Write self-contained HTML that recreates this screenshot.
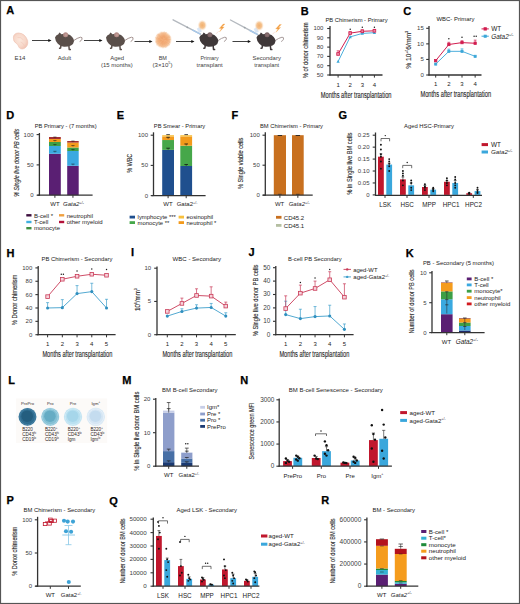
<!DOCTYPE html>
<html><head><meta charset="utf-8"><title>Figure</title>
<style>html,body{margin:0;padding:0;background:#fff;} svg{display:block;} text{font-family:"Liberation Sans", sans-serif;}</style>
</head><body>
<svg width="520" height="604" viewBox="0 0 520 604" font-family='"Liberation Sans", sans-serif' fill="#231f20">
<rect x="0.00" y="0.00" width="520.00" height="604.00" fill="#fff" />
<text x="6.30" y="14.10" font-size="11" font-weight="bold" fill="#000" stroke="#000" stroke-width="0.25">A</text>
<defs>
<radialGradient id="bmg" cx="50%" cy="50%" r="50%">
<stop offset="0" stop-color="#f3a872"/><stop offset="0.5" stop-color="#f6b989"/><stop offset="0.8" stop-color="#f8cca6"/><stop offset="1" stop-color="#fce6d3" stop-opacity="0.4"/>
</radialGradient>
<radialGradient id="smg" cx="50%" cy="50%" r="50%">
<stop offset="0" stop-color="#f1b06e"/><stop offset="0.55" stop-color="#f5c390"/><stop offset="1" stop-color="#fbe7d2" stop-opacity="0.15"/>
</radialGradient>
<radialGradient id="emb" cx="45%" cy="45%" r="55%">
<stop offset="0" stop-color="#fbe7dc"/><stop offset="0.7" stop-color="#f7d8ca"/><stop offset="1" stop-color="#f2c8b8"/>
</radialGradient>
</defs>
<path d="M13.4,37.2 Q13.8,33.2 18.5,33.0 Q25,33.3 27.6,40.5 Q28.6,46.2 24,48.6 Q20,49.8 18.6,46.6 Q18,44.3 16.4,43.6 Q13,41.6 13.4,37.2 Z" fill="url(#emb)" stroke="#efc3b3" stroke-width="0.7"/>
<path d="M17.5,37.5 Q21,36.5 23.5,40 M20.5,42 Q23.5,43 24.5,46" fill="none" stroke="#f0c4b4" stroke-width="0.5"/>
<line x1="32.00" y1="40.50" x2="49.00" y2="40.50" stroke="#111" stroke-width="0.8" />
<path d="M51.50,40.50 L48.30,39.00 L48.30,42.00 Z" fill="#111"/>
<g transform="translate(55.00,32.00) scale(1.0)">
<path d="M18.6,8.6 Q22.5,5.8 25.5,5.2 Q27.6,5.1 27,7.2 Q26.4,8.8 25,9.4" fill="none" stroke="#9b8783" stroke-width="0.9" stroke-linecap="round"/>
<path d="M6.0,13.2 L5.6,16.0 L4.6,16.3 M13.9,13.8 L14.2,17.4 L15.3,17.6" fill="none" stroke="#5a4f4a" stroke-width="1.5" stroke-linecap="round" stroke-linejoin="round"/>
<path d="M0,5.5 Q0.8,3 3.4,2.3 L4.3,0.4 Q5.6,1.2 6.4,2.2 Q9,1.4 12,2 Q15.5,2.6 17.2,5 Q19.2,7.2 19,9.2 Q18.6,12.2 16,13.6 Q12.5,15 9,14.8 Q5,14.4 2.8,11.8 Q0.2,9 0,5.5 Z" fill="#5a4f4a"/>
<circle cx="10.6" cy="2.7" r="2.5" fill="#b38b86"/>
<circle cx="10.9" cy="3.0" r="1.3" fill="#c9a29c" opacity="0.7"/>
</g>
<line x1="84.00" y1="40.50" x2="100.00" y2="40.50" stroke="#111" stroke-width="0.8" />
<path d="M102.50,40.50 L99.30,39.00 L99.30,42.00 Z" fill="#111"/>
<g transform="translate(106.00,32.00) scale(1.0)">
<path d="M18.6,8.6 Q22.5,5.8 25.5,5.2 Q27.6,5.1 27,7.2 Q26.4,8.8 25,9.4" fill="none" stroke="#9b8783" stroke-width="0.9" stroke-linecap="round"/>
<path d="M6.0,13.2 L5.6,16.0 L4.6,16.3 M13.9,13.8 L14.2,17.4 L15.3,17.6" fill="none" stroke="#5a4f4a" stroke-width="1.5" stroke-linecap="round" stroke-linejoin="round"/>
<path d="M0,5.5 Q0.8,3 3.4,2.3 L4.3,0.4 Q5.6,1.2 6.4,2.2 Q9,1.4 12,2 Q15.5,2.6 17.2,5 Q19.2,7.2 19,9.2 Q18.6,12.2 16,13.6 Q12.5,15 9,14.8 Q5,14.4 2.8,11.8 Q0.2,9 0,5.5 Z" fill="#5a4f4a"/>
<circle cx="10.6" cy="2.7" r="2.5" fill="#b38b86"/>
<circle cx="10.9" cy="3.0" r="1.3" fill="#c9a29c" opacity="0.7"/>
</g>
<line x1="134.50" y1="41.50" x2="150.00" y2="41.50" stroke="#111" stroke-width="0.8" />
<path d="M152.50,41.50 L149.30,40.00 L149.30,43.00 Z" fill="#111"/>
<circle cx="163.20" cy="39.80" r="8.60" fill="url(#bmg)" />
<line x1="165.83" y1="39.73" x2="170.47" y2="39.61" stroke="#ee9459" stroke-width="0.4" opacity="0.55"/>
<line x1="166.04" y1="40.24" x2="169.76" y2="40.81" stroke="#ee9459" stroke-width="0.4" opacity="0.55"/>
<line x1="166.61" y1="40.62" x2="170.05" y2="41.45" stroke="#ee9459" stroke-width="0.4" opacity="0.55"/>
<line x1="166.87" y1="41.36" x2="170.09" y2="42.73" stroke="#ee9459" stroke-width="0.4" opacity="0.55"/>
<line x1="165.20" y1="41.18" x2="169.65" y2="44.26" stroke="#ee9459" stroke-width="0.4" opacity="0.55"/>
<line x1="165.46" y1="41.62" x2="169.68" y2="45.03" stroke="#ee9459" stroke-width="0.4" opacity="0.55"/>
<line x1="165.31" y1="42.24" x2="168.37" y2="45.79" stroke="#ee9459" stroke-width="0.4" opacity="0.55"/>
<line x1="165.09" y1="42.48" x2="167.67" y2="46.12" stroke="#ee9459" stroke-width="0.4" opacity="0.55"/>
<line x1="163.67" y1="40.79" x2="166.80" y2="47.30" stroke="#ee9459" stroke-width="0.4" opacity="0.55"/>
<line x1="164.10" y1="42.83" x2="165.57" y2="47.80" stroke="#ee9459" stroke-width="0.4" opacity="0.55"/>
<line x1="163.66" y1="43.54" x2="164.09" y2="47.08" stroke="#ee9459" stroke-width="0.4" opacity="0.55"/>
<line x1="163.13" y1="42.13" x2="162.95" y2="48.26" stroke="#ee9459" stroke-width="0.4" opacity="0.55"/>
<line x1="162.97" y1="41.07" x2="161.98" y2="46.48" stroke="#ee9459" stroke-width="0.4" opacity="0.55"/>
<line x1="162.21" y1="43.57" x2="161.31" y2="46.97" stroke="#ee9459" stroke-width="0.4" opacity="0.55"/>
<line x1="162.39" y1="41.52" x2="159.97" y2="46.64" stroke="#ee9459" stroke-width="0.4" opacity="0.55"/>
<line x1="162.11" y1="41.54" x2="159.10" y2="46.35" stroke="#ee9459" stroke-width="0.4" opacity="0.55"/>
<line x1="160.75" y1="42.59" x2="157.96" y2="45.75" stroke="#ee9459" stroke-width="0.4" opacity="0.55"/>
<line x1="160.40" y1="42.02" x2="156.48" y2="45.14" stroke="#ee9459" stroke-width="0.4" opacity="0.55"/>
<line x1="161.93" y1="40.58" x2="156.14" y2="44.17" stroke="#ee9459" stroke-width="0.4" opacity="0.55"/>
<line x1="159.75" y1="41.18" x2="156.06" y2="42.67" stroke="#ee9459" stroke-width="0.4" opacity="0.55"/>
<line x1="161.62" y1="40.23" x2="155.24" y2="41.95" stroke="#ee9459" stroke-width="0.4" opacity="0.55"/>
<line x1="161.36" y1="40.05" x2="156.63" y2="40.70" stroke="#ee9459" stroke-width="0.4" opacity="0.55"/>
<line x1="159.23" y1="39.66" x2="156.52" y2="39.56" stroke="#ee9459" stroke-width="0.4" opacity="0.55"/>
<line x1="161.00" y1="39.42" x2="156.48" y2="38.63" stroke="#ee9459" stroke-width="0.4" opacity="0.55"/>
<line x1="160.01" y1="38.93" x2="155.16" y2="37.62" stroke="#ee9459" stroke-width="0.4" opacity="0.55"/>
<line x1="160.56" y1="38.74" x2="157.08" y2="37.34" stroke="#ee9459" stroke-width="0.4" opacity="0.55"/>
<line x1="161.55" y1="38.69" x2="156.28" y2="35.13" stroke="#ee9459" stroke-width="0.4" opacity="0.55"/>
<line x1="161.38" y1="38.06" x2="156.98" y2="33.86" stroke="#ee9459" stroke-width="0.4" opacity="0.55"/>
<line x1="162.38" y1="38.89" x2="158.01" y2="34.03" stroke="#ee9459" stroke-width="0.4" opacity="0.55"/>
<line x1="162.28" y1="38.50" x2="158.94" y2="33.80" stroke="#ee9459" stroke-width="0.4" opacity="0.55"/>
<line x1="162.60" y1="38.46" x2="160.53" y2="33.78" stroke="#ee9459" stroke-width="0.4" opacity="0.55"/>
<line x1="162.72" y1="37.92" x2="161.10" y2="31.55" stroke="#ee9459" stroke-width="0.4" opacity="0.55"/>
<line x1="162.98" y1="37.68" x2="162.43" y2="32.37" stroke="#ee9459" stroke-width="0.4" opacity="0.55"/>
<line x1="163.21" y1="36.87" x2="163.22" y2="32.05" stroke="#ee9459" stroke-width="0.4" opacity="0.55"/>
<line x1="163.62" y1="36.97" x2="164.46" y2="31.42" stroke="#ee9459" stroke-width="0.4" opacity="0.55"/>
<line x1="163.85" y1="37.60" x2="165.46" y2="32.11" stroke="#ee9459" stroke-width="0.4" opacity="0.55"/>
<line x1="163.94" y1="38.05" x2="166.55" y2="31.93" stroke="#ee9459" stroke-width="0.4" opacity="0.55"/>
<line x1="164.63" y1="37.58" x2="166.74" y2="34.32" stroke="#ee9459" stroke-width="0.4" opacity="0.55"/>
<line x1="164.98" y1="37.71" x2="167.44" y2="34.82" stroke="#ee9459" stroke-width="0.4" opacity="0.55"/>
<line x1="165.41" y1="37.93" x2="168.26" y2="35.52" stroke="#ee9459" stroke-width="0.4" opacity="0.55"/>
<line x1="165.23" y1="38.53" x2="169.92" y2="35.60" stroke="#ee9459" stroke-width="0.4" opacity="0.55"/>
<line x1="166.02" y1="38.46" x2="170.47" y2="36.35" stroke="#ee9459" stroke-width="0.4" opacity="0.55"/>
<line x1="164.32" y1="39.41" x2="170.68" y2="37.21" stroke="#ee9459" stroke-width="0.4" opacity="0.55"/>
<line x1="164.95" y1="39.63" x2="170.62" y2="39.08" stroke="#ee9459" stroke-width="0.4" opacity="0.55"/>
<line x1="176.00" y1="41.50" x2="192.00" y2="41.50" stroke="#111" stroke-width="0.8" />
<path d="M194.50,41.50 L191.30,40.00 L191.30,43.00 Z" fill="#111"/>
<line x1="173.10" y1="19.80" x2="200.50" y2="34.20" stroke="#b4b9bf" stroke-width="1.4" stroke-linecap="round"/>
<circle cx="187.35" cy="27.29" r="0.90" fill="#9aa0a6" />
<line x1="192.28" y1="29.88" x2="200.50" y2="34.20" stroke="#a7c8ea" stroke-width="1.5" />
<path d="M196.80,28.80 L200.30,26.30 L201.80,31.80 L198.80,32.80 Z" fill="#c9dcf2" opacity="0.7"/>
<ellipse cx="202.30" cy="25.30" rx="4.6" ry="5.4" fill="url(#smg)"/>
<path d="M223.20,24.00 L219.30,28.40 L221.50,28.40 L219.60,31.80 L224.20,26.90 L222.10,26.90 L225.00,24.00 Z" fill="#f29a3c" stroke="#f7bd7a" stroke-width="0.4"/>
<line x1="218.60" y1="31.20" x2="216.00" y2="33.80" stroke="#f2c4b4" stroke-width="0.5" />
<g transform="translate(199.30,32.00) scale(1.0)">
<path d="M18.6,8.6 Q22.5,5.8 25.5,5.2 Q27.6,5.1 27,7.2 Q26.4,8.8 25,9.4" fill="none" stroke="#9d9090" stroke-width="0.9" stroke-linecap="round"/>
<path d="M6.0,13.2 L5.6,16.0 L4.6,16.3 M13.9,13.8 L14.2,17.4 L15.3,17.6" fill="none" stroke="#3f3839" stroke-width="1.5" stroke-linecap="round" stroke-linejoin="round"/>
<path d="M0,5.5 Q0.8,3 3.4,2.3 L4.3,0.4 Q5.6,1.2 6.4,2.2 Q9,1.4 12,2 Q15.5,2.6 17.2,5 Q19.2,7.2 19,9.2 Q18.6,12.2 16,13.6 Q12.5,15 9,14.8 Q5,14.4 2.8,11.8 Q0.2,9 0,5.5 Z" fill="#3f3839"/>
<circle cx="10.6" cy="2.7" r="2.5" fill="#7d6466"/>
<circle cx="10.9" cy="3.0" r="1.3" fill="#8d7375" opacity="0.7"/>
</g>
<line x1="232.50" y1="41.50" x2="248.50" y2="41.50" stroke="#111" stroke-width="0.8" />
<path d="M251.00,41.50 L247.80,40.00 L247.80,43.00 Z" fill="#111"/>
<line x1="230.50" y1="20.00" x2="257.80" y2="34.60" stroke="#b4b9bf" stroke-width="1.4" stroke-linecap="round"/>
<circle cx="244.70" cy="27.59" r="0.90" fill="#9aa0a6" />
<line x1="249.61" y1="30.22" x2="257.80" y2="34.60" stroke="#a7c8ea" stroke-width="1.5" />
<path d="M253.70,29.10 L257.20,26.60 L258.70,32.10 L255.70,33.10 Z" fill="#c9dcf2" opacity="0.7"/>
<ellipse cx="259.20" cy="25.60" rx="4.6" ry="5.4" fill="url(#smg)"/>
<path d="M279.60,24.50 L275.70,28.90 L277.90,28.90 L276.00,32.30 L280.60,27.40 L278.50,27.40 L281.40,24.50 Z" fill="#f29a3c" stroke="#f7bd7a" stroke-width="0.4"/>
<line x1="275.00" y1="31.70" x2="272.40" y2="34.30" stroke="#f2c4b4" stroke-width="0.5" />
<g transform="translate(256.50,32.00) scale(1.0)">
<path d="M18.6,8.6 Q22.5,5.8 25.5,5.2 Q27.6,5.1 27,7.2 Q26.4,8.8 25,9.4" fill="none" stroke="#9d9090" stroke-width="0.9" stroke-linecap="round"/>
<path d="M6.0,13.2 L5.6,16.0 L4.6,16.3 M13.9,13.8 L14.2,17.4 L15.3,17.6" fill="none" stroke="#3f3839" stroke-width="1.5" stroke-linecap="round" stroke-linejoin="round"/>
<path d="M0,5.5 Q0.8,3 3.4,2.3 L4.3,0.4 Q5.6,1.2 6.4,2.2 Q9,1.4 12,2 Q15.5,2.6 17.2,5 Q19.2,7.2 19,9.2 Q18.6,12.2 16,13.6 Q12.5,15 9,14.8 Q5,14.4 2.8,11.8 Q0.2,9 0,5.5 Z" fill="#3f3839"/>
<circle cx="10.6" cy="2.7" r="2.5" fill="#7d6466"/>
<circle cx="10.9" cy="3.0" r="1.3" fill="#8d7375" opacity="0.7"/>
</g>
<text x="20.00" y="59.80" font-size="6.1" text-anchor="middle" fill="#404040" textLength="10.8" lengthAdjust="spacingAndGlyphs">E14</text>
<text x="64.40" y="59.80" font-size="6.1" text-anchor="middle" fill="#404040" textLength="13.4" lengthAdjust="spacingAndGlyphs">Adult</text>
<text x="117.10" y="59.80" font-size="6.1" text-anchor="middle" fill="#404040" textLength="13.8" lengthAdjust="spacingAndGlyphs">Aged</text>
<text x="116.90" y="66.60" font-size="6.1" text-anchor="middle" fill="#404040" textLength="31.7" lengthAdjust="spacingAndGlyphs">(15 months)</text>
<text x="162.80" y="59.80" font-size="6.1" text-anchor="middle" fill="#404040" textLength="8.2" lengthAdjust="spacingAndGlyphs">BM</text>
<text x="162.50" y="66.60" font-size="6.1" text-anchor="middle" fill="#404040">(3×10<tspan font-size="3.8" dy="-2.66">5</tspan><tspan dy="2.66">)</tspan></text>
<text x="209.60" y="59.80" font-size="6.1" text-anchor="middle" fill="#404040" textLength="18.4" lengthAdjust="spacingAndGlyphs">Primary</text>
<text x="209.60" y="66.80" font-size="6.1" text-anchor="middle" fill="#404040" textLength="26.2" lengthAdjust="spacingAndGlyphs">transplant</text>
<text x="266.70" y="60.20" font-size="6.1" text-anchor="middle" fill="#404040" textLength="28.3" lengthAdjust="spacingAndGlyphs">Secondary</text>
<text x="266.70" y="67.20" font-size="6.1" text-anchor="middle" fill="#404040" textLength="24.9" lengthAdjust="spacingAndGlyphs">transplant</text>
<text x="300.70" y="14.80" font-size="11" font-weight="bold" fill="#000" stroke="#000" stroke-width="0.25">B</text>
<text x="325.40" y="21.50" font-size="6.15" fill="#222" textLength="62.3" lengthAdjust="spacingAndGlyphs">PB Chimerism - Primary</text>
<line x1="330.00" y1="75.50" x2="330.00" y2="26.00" stroke="#333" stroke-width="1.3" />
<line x1="327.20" y1="75.00" x2="330.00" y2="75.00" stroke="#333" stroke-width="1.105" />
<text x="323.40" y="76.90" font-size="6.0" text-anchor="end" fill="#404040">50</text>
<line x1="327.20" y1="65.70" x2="330.00" y2="65.70" stroke="#333" stroke-width="1.105" />
<text x="323.40" y="67.60" font-size="6.0" text-anchor="end" fill="#404040">60</text>
<line x1="327.20" y1="56.40" x2="330.00" y2="56.40" stroke="#333" stroke-width="1.105" />
<text x="323.40" y="58.30" font-size="6.0" text-anchor="end" fill="#404040">70</text>
<line x1="327.20" y1="47.10" x2="330.00" y2="47.10" stroke="#333" stroke-width="1.105" />
<text x="323.40" y="49.00" font-size="6.0" text-anchor="end" fill="#404040">80</text>
<line x1="327.20" y1="37.80" x2="330.00" y2="37.80" stroke="#333" stroke-width="1.105" />
<text x="323.40" y="39.70" font-size="6.0" text-anchor="end" fill="#404040">90</text>
<line x1="327.20" y1="28.50" x2="330.00" y2="28.50" stroke="#333" stroke-width="1.105" />
<text x="323.40" y="30.40" font-size="6.0" text-anchor="end" fill="#404040">100</text>
<line x1="329.50" y1="75.00" x2="382.50" y2="75.00" stroke="#333" stroke-width="1.3" />
<line x1="338.10" y1="75.00" x2="338.10" y2="77.60" stroke="#333" stroke-width="1.0" />
<line x1="350.20" y1="75.00" x2="350.20" y2="77.60" stroke="#333" stroke-width="1.0" />
<line x1="362.30" y1="75.00" x2="362.30" y2="77.60" stroke="#333" stroke-width="1.0" />
<line x1="374.40" y1="75.00" x2="374.40" y2="77.60" stroke="#333" stroke-width="1.0" />
<text x="338.10" y="86.50" font-size="6.0" text-anchor="middle" fill="#222">1</text>
<text x="350.20" y="86.50" font-size="6.0" text-anchor="middle" fill="#222">2</text>
<text x="362.30" y="86.50" font-size="6.0" text-anchor="middle" fill="#222">3</text>
<text x="374.40" y="86.50" font-size="6.0" text-anchor="middle" fill="#222">4</text>
<text x="356.15" y="97.50" font-size="8.4" text-anchor="middle" fill="#262626" textLength="70.7" lengthAdjust="spacingAndGlyphs" stroke="#262626" stroke-width="0.12">Months after transplantation</text>
<text x="308.00" y="50.30" font-size="8.0" text-anchor="middle" fill="#2a2a2a" textLength="55.7" lengthAdjust="spacingAndGlyphs" transform="rotate(-90 308.00 50.30)" stroke="#2a2a2a" stroke-width="0.12">% of donor chimerism</text>
<polyline points="338.10,61.52 350.20,36.87 362.30,33.43 374.40,32.68" fill="none" stroke="#3aa6d8" stroke-width="0.9"/>
<path d="M338.10,59.72 L339.75,62.87 L336.45,62.87 Z" fill="#3aa6d8"/>
<path d="M350.20,35.07 L351.85,38.22 L348.55,38.22 Z" fill="#3aa6d8"/>
<path d="M362.30,31.63 L363.95,34.78 L360.65,34.78 Z" fill="#3aa6d8"/>
<path d="M374.40,30.88 L376.05,34.03 L372.75,34.03 Z" fill="#3aa6d8"/>
<line x1="338.10" y1="53.98" x2="338.10" y2="50.82" stroke="#d21d4f" stroke-width="0.7" />
<line x1="336.70" y1="50.82" x2="339.50" y2="50.82" stroke="#d21d4f" stroke-width="0.7" />
<line x1="350.20" y1="33.15" x2="350.20" y2="31.75" stroke="#d21d4f" stroke-width="0.7" />
<line x1="348.80" y1="31.75" x2="351.60" y2="31.75" stroke="#d21d4f" stroke-width="0.7" />
<line x1="362.30" y1="31.29" x2="362.30" y2="29.89" stroke="#d21d4f" stroke-width="0.7" />
<line x1="360.90" y1="29.89" x2="363.70" y2="29.89" stroke="#d21d4f" stroke-width="0.7" />
<line x1="374.40" y1="30.82" x2="374.40" y2="29.43" stroke="#d21d4f" stroke-width="0.7" />
<line x1="373.00" y1="29.43" x2="375.80" y2="29.43" stroke="#d21d4f" stroke-width="0.7" />
<polyline points="338.10,53.98 350.20,33.15 362.30,31.29 374.40,30.82" fill="none" stroke="#d21d4f" stroke-width="1.0"/>
<rect x="336.75" y="52.63" width="2.7" height="2.7" fill="#e98aa2" stroke="#d21d4f" stroke-width="0.8"/>
<rect x="348.85" y="31.80" width="2.7" height="2.7" fill="#e98aa2" stroke="#d21d4f" stroke-width="0.8"/>
<rect x="360.95" y="29.94" width="2.7" height="2.7" fill="#e98aa2" stroke="#d21d4f" stroke-width="0.8"/>
<rect x="373.05" y="29.47" width="2.7" height="2.7" fill="#e98aa2" stroke="#d21d4f" stroke-width="0.8"/>
<circle cx="350.20" cy="29.20" r="0.72" fill="#1a1a1a" />
<circle cx="362.30" cy="27.20" r="0.72" fill="#1a1a1a" />
<circle cx="374.40" cy="27.20" r="0.72" fill="#1a1a1a" />
<text x="403.30" y="14.50" font-size="11" font-weight="bold" fill="#000" stroke="#000" stroke-width="0.25">C</text>
<text x="436.50" y="21.30" font-size="6.15" fill="#222" textLength="37.9" lengthAdjust="spacingAndGlyphs">WBC- Primary</text>
<line x1="429.00" y1="75.50" x2="429.00" y2="26.00" stroke="#333" stroke-width="1.3" />
<line x1="426.20" y1="75.00" x2="429.00" y2="75.00" stroke="#333" stroke-width="1.105" />
<text x="423.80" y="76.90" font-size="6.0" text-anchor="end" fill="#404040">0</text>
<line x1="426.20" y1="59.44" x2="429.00" y2="59.44" stroke="#333" stroke-width="1.105" />
<text x="423.80" y="61.34" font-size="6.0" text-anchor="end" fill="#404040">5</text>
<line x1="426.20" y1="43.87" x2="429.00" y2="43.87" stroke="#333" stroke-width="1.105" />
<text x="423.80" y="45.77" font-size="6.0" text-anchor="end" fill="#404040">10</text>
<line x1="426.20" y1="28.30" x2="429.00" y2="28.30" stroke="#333" stroke-width="1.105" />
<text x="423.80" y="30.20" font-size="6.0" text-anchor="end" fill="#404040">15</text>
<line x1="428.50" y1="75.00" x2="481.50" y2="75.00" stroke="#333" stroke-width="1.3" />
<line x1="435.70" y1="75.00" x2="435.70" y2="77.60" stroke="#333" stroke-width="1.0" />
<line x1="448.85" y1="75.00" x2="448.85" y2="77.60" stroke="#333" stroke-width="1.0" />
<line x1="462.00" y1="75.00" x2="462.00" y2="77.60" stroke="#333" stroke-width="1.0" />
<line x1="475.15" y1="75.00" x2="475.15" y2="77.60" stroke="#333" stroke-width="1.0" />
<text x="435.70" y="86.20" font-size="6.0" text-anchor="middle" fill="#222">1</text>
<text x="448.85" y="86.20" font-size="6.0" text-anchor="middle" fill="#222">2</text>
<text x="462.00" y="86.20" font-size="6.0" text-anchor="middle" fill="#222">3</text>
<text x="475.15" y="86.20" font-size="6.0" text-anchor="middle" fill="#222">4</text>
<text x="455.80" y="97.40" font-size="8.4" text-anchor="middle" fill="#262626" textLength="70.8" lengthAdjust="spacingAndGlyphs" stroke="#262626" stroke-width="0.12">Months after transplantation</text>
<text x="411.00" y="49.90" font-size="8.0" text-anchor="middle" fill="#2a2a2a" textLength="37.7" lengthAdjust="spacingAndGlyphs" transform="rotate(-90 411.00 49.90)" stroke="#2a2a2a" stroke-width="0.12">% 10<tspan font-size="3.8" dy="-2.66">+/-</tspan><tspan dy="2.66">6/mm</tspan><tspan font-size="3.8" dy="-2.66">3</tspan></text>
<line x1="448.85" y1="51.34" x2="448.85" y2="49.16" stroke="#3aa6d8" stroke-width="0.7" />
<line x1="447.45" y1="49.16" x2="450.25" y2="49.16" stroke="#3aa6d8" stroke-width="0.7" />
<line x1="462.00" y1="51.34" x2="462.00" y2="48.85" stroke="#3aa6d8" stroke-width="0.7" />
<line x1="460.60" y1="48.85" x2="463.40" y2="48.85" stroke="#3aa6d8" stroke-width="0.7" />
<polyline points="435.70,64.10 448.85,51.34 462.00,51.34 475.15,56.32" fill="none" stroke="#3aa6d8" stroke-width="0.9"/>
<rect x="434.65" y="63.05" width="2.1" height="2.1" fill="#3aa6d8" stroke="#3aa6d8" stroke-width="0.8"/>
<rect x="447.80" y="50.29" width="2.1" height="2.1" fill="#3aa6d8" stroke="#3aa6d8" stroke-width="0.8"/>
<rect x="460.95" y="50.29" width="2.1" height="2.1" fill="#3aa6d8" stroke="#3aa6d8" stroke-width="0.8"/>
<rect x="474.10" y="55.27" width="2.1" height="2.1" fill="#3aa6d8" stroke="#3aa6d8" stroke-width="0.8"/>
<line x1="448.85" y1="44.49" x2="448.85" y2="42.31" stroke="#d21d4f" stroke-width="0.7" />
<line x1="447.45" y1="42.31" x2="450.25" y2="42.31" stroke="#d21d4f" stroke-width="0.7" />
<line x1="462.00" y1="42.62" x2="462.00" y2="40.76" stroke="#d21d4f" stroke-width="0.7" />
<line x1="460.60" y1="40.76" x2="463.40" y2="40.76" stroke="#d21d4f" stroke-width="0.7" />
<line x1="475.15" y1="43.25" x2="475.15" y2="40.13" stroke="#d21d4f" stroke-width="0.7" />
<line x1="473.75" y1="40.13" x2="476.55" y2="40.13" stroke="#d21d4f" stroke-width="0.7" />
<polyline points="435.70,60.68 448.85,44.49 462.00,42.62 475.15,43.25" fill="none" stroke="#d21d4f" stroke-width="1.0"/>
<rect x="434.55" y="59.53" width="2.3" height="2.3" fill="#d21d4f" stroke="#d21d4f" stroke-width="0.8"/>
<rect x="447.70" y="43.34" width="2.3" height="2.3" fill="#d21d4f" stroke="#d21d4f" stroke-width="0.8"/>
<rect x="460.85" y="41.47" width="2.3" height="2.3" fill="#d21d4f" stroke="#d21d4f" stroke-width="0.8"/>
<rect x="474.00" y="42.10" width="2.3" height="2.3" fill="#d21d4f" stroke="#d21d4f" stroke-width="0.8"/>
<circle cx="448.85" cy="38.80" r="0.72" fill="#1a1a1a" />
<circle cx="462.00" cy="37.20" r="0.72" fill="#1a1a1a" />
<circle cx="474.10" cy="36.20" r="0.72" fill="#1a1a1a" />
<circle cx="476.20" cy="36.20" r="0.72" fill="#1a1a1a" />
<line x1="481.50" y1="28.90" x2="488.80" y2="28.90" stroke="#d21d4f" stroke-width="1.0" />
<rect x="484.00" y="27.70" width="2.4" height="2.4" fill="#d21d4f" stroke="#d21d4f" stroke-width="0.8"/>
<text x="491.30" y="31.20" font-size="6.4" fill="#222">WT</text>
<line x1="481.50" y1="36.20" x2="488.80" y2="36.20" stroke="#3aa6d8" stroke-width="1.0" />
<rect x="484.10" y="35.10" width="2.2" height="2.2" fill="#3aa6d8" stroke="#3aa6d8" stroke-width="0.8"/>
<text x="491.30" y="38.50" font-size="6.4" fill="#222" font-style="italic">Gata2<tspan font-size="3.84" dy="-2.56">+/-</tspan></text>
<text x="6.20" y="118.60" font-size="11" font-weight="bold" fill="#000" stroke="#000" stroke-width="0.25">D</text>
<text x="34.70" y="127.80" font-size="6.15" fill="#222" textLength="62" lengthAdjust="spacingAndGlyphs">PB Primary - (7 months)</text>
<rect x="49.00" y="153.80" width="11.80" height="41.40" fill="#5a1f73" />
<rect x="49.00" y="146.00" width="11.80" height="7.80" fill="#3aa9e0" />
<rect x="49.00" y="142.00" width="11.80" height="4.00" fill="#3d9f46" />
<rect x="49.00" y="138.90" width="11.80" height="3.10" fill="#f59c1d" />
<rect x="49.00" y="137.10" width="11.80" height="1.80" fill="#9a1a1e" />
<rect x="67.20" y="165.80" width="11.50" height="29.40" fill="#5a1f73" />
<rect x="67.20" y="151.00" width="11.50" height="14.80" fill="#3aa9e0" />
<rect x="67.20" y="147.50" width="11.50" height="3.50" fill="#3d9f46" />
<rect x="67.20" y="142.50" width="11.50" height="5.00" fill="#f59c1d" />
<rect x="67.20" y="141.10" width="11.50" height="1.40" fill="#9a1a1e" />
<line x1="53.30" y1="137.00" x2="56.50" y2="137.00" stroke="#1a1a1a" stroke-width="0.7" opacity="0.75"/>
<line x1="54.90" y1="137.00" x2="54.90" y2="138.20" stroke="#1a1a1a" stroke-width="0.5" opacity="0.6"/>
<line x1="53.30" y1="140.50" x2="56.50" y2="140.50" stroke="#1a1a1a" stroke-width="0.7" opacity="0.75"/>
<line x1="54.90" y1="140.50" x2="54.90" y2="141.70" stroke="#1a1a1a" stroke-width="0.5" opacity="0.6"/>
<line x1="53.30" y1="144.50" x2="56.50" y2="144.50" stroke="#1a1a1a" stroke-width="0.7" opacity="0.75"/>
<line x1="54.90" y1="144.50" x2="54.90" y2="145.70" stroke="#1a1a1a" stroke-width="0.5" opacity="0.6"/>
<line x1="53.30" y1="151.30" x2="56.50" y2="151.30" stroke="#1a1a1a" stroke-width="0.7" opacity="0.75"/>
<line x1="54.90" y1="151.30" x2="54.90" y2="152.50" stroke="#1a1a1a" stroke-width="0.5" opacity="0.6"/>
<line x1="71.35" y1="141.00" x2="74.55" y2="141.00" stroke="#1a1a1a" stroke-width="0.7" opacity="0.75"/>
<line x1="72.95" y1="141.00" x2="72.95" y2="142.20" stroke="#1a1a1a" stroke-width="0.5" opacity="0.6"/>
<line x1="71.35" y1="145.50" x2="74.55" y2="145.50" stroke="#1a1a1a" stroke-width="0.7" opacity="0.75"/>
<line x1="72.95" y1="145.50" x2="72.95" y2="146.70" stroke="#1a1a1a" stroke-width="0.5" opacity="0.6"/>
<line x1="71.35" y1="149.50" x2="74.55" y2="149.50" stroke="#1a1a1a" stroke-width="0.7" opacity="0.75"/>
<line x1="72.95" y1="149.50" x2="72.95" y2="150.70" stroke="#1a1a1a" stroke-width="0.5" opacity="0.6"/>
<line x1="71.35" y1="164.10" x2="74.55" y2="164.10" stroke="#1a1a1a" stroke-width="0.7" opacity="0.75"/>
<line x1="72.95" y1="164.10" x2="72.95" y2="165.30" stroke="#1a1a1a" stroke-width="0.5" opacity="0.6"/>
<line x1="39.40" y1="195.70" x2="39.40" y2="133.00" stroke="#333" stroke-width="1.3" />
<line x1="36.60" y1="195.20" x2="39.40" y2="195.20" stroke="#333" stroke-width="1.105" />
<text x="33.60" y="197.10" font-size="6.0" text-anchor="end" fill="#404040">0</text>
<line x1="36.60" y1="164.90" x2="39.40" y2="164.90" stroke="#333" stroke-width="1.105" />
<text x="33.60" y="166.80" font-size="6.0" text-anchor="end" fill="#404040">50</text>
<line x1="36.60" y1="134.60" x2="39.40" y2="134.60" stroke="#333" stroke-width="1.105" />
<text x="33.60" y="136.50" font-size="6.0" text-anchor="end" fill="#404040">100</text>
<line x1="37.40" y1="195.20" x2="92.60" y2="195.20" stroke="#333" stroke-width="1.3" />
<line x1="54.90" y1="195.20" x2="54.90" y2="197.80" stroke="#333" stroke-width="1.0" />
<line x1="72.95" y1="195.20" x2="72.95" y2="197.80" stroke="#333" stroke-width="1.0" />
<text x="54.90" y="206.40" font-size="6.0" text-anchor="middle" fill="#222">WT</text>
<text x="63.00" y="206.40" font-size="6.0" fill="#222" font-style="italic">Gata2<tspan font-size="3.60" dy="-2.40">+/-</tspan></text>
<text x="19.00" y="162.80" font-size="8.0" text-anchor="middle" fill="#2a2a2a" textLength="68" lengthAdjust="spacingAndGlyphs" font-style="italic" transform="rotate(-90 19.00 162.80)" stroke="#2a2a2a" stroke-width="0.12">% Single live donor PB cells</text>
<rect x="26.30" y="214.10" width="5.20" height="2.40" fill="#3d0f3f" />
<text x="34.00" y="217.50" font-size="6.0" fill="#222">B-cell *</text>
<rect x="26.30" y="220.80" width="5.20" height="2.40" fill="#3fb0e0" />
<text x="34.00" y="224.20" font-size="6.0" fill="#222">T-cell</text>
<rect x="26.30" y="227.00" width="5.20" height="2.40" fill="#3f8f40" />
<text x="34.00" y="230.40" font-size="6.0" fill="#222">monocyte</text>
<rect x="59.00" y="214.10" width="5.20" height="2.40" fill="#f0a040" />
<text x="66.70" y="217.50" font-size="6.0" fill="#222">neutrophil</text>
<rect x="59.00" y="220.80" width="5.20" height="2.40" fill="#b3123a" />
<text x="66.70" y="224.20" font-size="6.0" fill="#222">other myeloid</text>
<text x="116.80" y="118.60" font-size="11" font-weight="bold" fill="#000" stroke="#000" stroke-width="0.25">E</text>
<text x="153.80" y="127.60" font-size="6.15" fill="#222" textLength="51.4" lengthAdjust="spacingAndGlyphs">PB Smear - Primary</text>
<rect x="162.20" y="149.88" width="11.80" height="45.72" fill="#1f4f8e" />
<rect x="162.20" y="140.03" width="11.80" height="9.85" fill="#46a74a" />
<rect x="162.20" y="136.41" width="11.80" height="3.62" fill="#f39a1b" />
<rect x="162.20" y="135.20" width="11.80" height="1.21" fill="#f8c03c" />
<rect x="180.30" y="166.00" width="11.80" height="29.60" fill="#1f4f8e" />
<rect x="180.30" y="145.71" width="11.80" height="20.29" fill="#46a74a" />
<rect x="180.30" y="136.41" width="11.80" height="9.30" fill="#f39a1b" />
<rect x="180.30" y="135.20" width="11.80" height="1.21" fill="#f8c03c" />
<line x1="166.30" y1="134.60" x2="169.90" y2="134.60" stroke="#111" stroke-width="0.75" />
<line x1="166.30" y1="137.31" x2="169.90" y2="137.31" stroke="#111" stroke-width="0.75" />
<line x1="168.10" y1="137.31" x2="168.10" y2="138.91" stroke="#111" stroke-width="0.5" />
<line x1="166.30" y1="148.19" x2="169.90" y2="148.19" stroke="#111" stroke-width="0.75" />
<line x1="168.10" y1="148.19" x2="168.10" y2="149.79" stroke="#111" stroke-width="0.5" />
<line x1="184.40" y1="134.60" x2="188.00" y2="134.60" stroke="#111" stroke-width="0.75" />
<line x1="184.40" y1="143.96" x2="188.00" y2="143.96" stroke="#111" stroke-width="0.75" />
<line x1="186.20" y1="143.96" x2="186.20" y2="145.56" stroke="#111" stroke-width="0.5" />
<line x1="184.40" y1="164.49" x2="188.00" y2="164.49" stroke="#111" stroke-width="0.75" />
<line x1="186.20" y1="164.49" x2="186.20" y2="166.09" stroke="#111" stroke-width="0.5" />
<line x1="153.50" y1="196.00" x2="153.50" y2="132.30" stroke="#333" stroke-width="1.3" />
<line x1="150.70" y1="195.60" x2="153.50" y2="195.60" stroke="#333" stroke-width="1.105" />
<text x="148.00" y="197.50" font-size="6.0" text-anchor="end" fill="#404040">0</text>
<line x1="150.70" y1="165.40" x2="153.50" y2="165.40" stroke="#333" stroke-width="1.105" />
<text x="148.00" y="167.30" font-size="6.0" text-anchor="end" fill="#404040">50</text>
<line x1="150.70" y1="135.20" x2="153.50" y2="135.20" stroke="#333" stroke-width="1.105" />
<text x="148.00" y="137.10" font-size="6.0" text-anchor="end" fill="#404040">100</text>
<line x1="151.50" y1="195.60" x2="205.60" y2="195.60" stroke="#333" stroke-width="1.3" />
<line x1="168.10" y1="195.60" x2="168.10" y2="198.20" stroke="#333" stroke-width="1.0" />
<line x1="186.20" y1="195.60" x2="186.20" y2="198.20" stroke="#333" stroke-width="1.0" />
<text x="168.00" y="206.30" font-size="6.0" text-anchor="middle" fill="#222">WT</text>
<text x="176.70" y="206.30" font-size="6.0" fill="#222">Gata2<tspan font-size="3.60" dy="-2.40">+/-</tspan></text>
<text x="132.20" y="163.20" font-size="8.0" text-anchor="middle" fill="#2a2a2a" textLength="19" lengthAdjust="spacingAndGlyphs" transform="rotate(-90 132.20 163.20)" stroke="#2a2a2a" stroke-width="0.12">% WBC</text>
<rect x="129.60" y="215.70" width="5.40" height="2.80" fill="#1f4f8e" />
<text x="137.60" y="219.20" font-size="5.9" fill="#222">lymphocyte ***</text>
<rect x="129.60" y="221.20" width="5.40" height="2.80" fill="#46a74a" />
<text x="137.60" y="224.70" font-size="5.9" fill="#222">monocyte **</text>
<rect x="178.60" y="215.70" width="5.40" height="2.80" fill="#f8c03c" />
<text x="186.60" y="219.20" font-size="5.9" fill="#222">eosinophil</text>
<rect x="178.60" y="221.20" width="5.40" height="2.80" fill="#f39a1b" />
<text x="186.60" y="224.70" font-size="5.9" fill="#222">neutrophil *</text>
<text x="231.50" y="118.60" font-size="11" font-weight="bold" fill="#000" stroke="#000" stroke-width="0.25">F</text>
<text x="260.00" y="127.60" font-size="6.15" fill="#222" textLength="63" lengthAdjust="spacingAndGlyphs">BM Chimerism - Primary</text>
<rect x="273.80" y="135.20" width="12.20" height="60.00" fill="#c8701f" />
<rect x="292.00" y="135.20" width="11.70" height="60.00" fill="#c8701f" />
<line x1="277.70" y1="135.50" x2="282.10" y2="135.50" stroke="#222" stroke-width="0.9" />
<line x1="278.10" y1="194.30" x2="281.70" y2="194.30" stroke="#333" stroke-width="0.8" />
<line x1="295.65" y1="135.50" x2="300.05" y2="135.50" stroke="#222" stroke-width="0.9" />
<line x1="296.05" y1="194.30" x2="299.65" y2="194.30" stroke="#333" stroke-width="0.8" />
<line x1="265.30" y1="195.70" x2="265.30" y2="132.30" stroke="#333" stroke-width="1.3" />
<line x1="262.50" y1="195.20" x2="265.30" y2="195.20" stroke="#333" stroke-width="1.105" />
<text x="259.80" y="197.10" font-size="6.0" text-anchor="end" fill="#404040">0</text>
<line x1="262.50" y1="165.20" x2="265.30" y2="165.20" stroke="#333" stroke-width="1.105" />
<text x="259.80" y="167.10" font-size="6.0" text-anchor="end" fill="#404040">50</text>
<line x1="262.50" y1="135.20" x2="265.30" y2="135.20" stroke="#333" stroke-width="1.105" />
<text x="259.80" y="137.10" font-size="6.0" text-anchor="end" fill="#404040">100</text>
<line x1="262.70" y1="195.20" x2="312.70" y2="195.20" stroke="#333" stroke-width="1.3" />
<line x1="279.90" y1="195.20" x2="279.90" y2="197.80" stroke="#333" stroke-width="1.0" />
<line x1="297.85" y1="195.20" x2="297.85" y2="197.80" stroke="#333" stroke-width="1.0" />
<text x="279.60" y="206.30" font-size="6.0" text-anchor="middle" fill="#1e1e28">WT</text>
<text x="288.70" y="206.30" font-size="6.0" fill="#1e1e28" font-style="italic">Gata2<tspan font-size="3.60" dy="-2.40">+/-</tspan></text>
<text x="243.40" y="163.30" font-size="8.0" text-anchor="middle" fill="#2a2a2a" textLength="51.5" lengthAdjust="spacingAndGlyphs" transform="rotate(-90 243.40 163.30)" stroke="#2a2a2a" stroke-width="0.12">% Single viable cells</text>
<rect x="276.00" y="215.90" width="5.50" height="2.80" fill="#c8701f" />
<text x="283.80" y="219.50" font-size="6.0" fill="#222">CD45.2</text>
<rect x="276.00" y="224.00" width="5.50" height="2.80" fill="#b5bfa2" />
<text x="283.80" y="227.60" font-size="6.0" fill="#222">CD45.1</text>
<text x="338.40" y="118.60" font-size="11" font-weight="bold" fill="#000" stroke="#000" stroke-width="0.25">G</text>
<text x="404.00" y="127.60" font-size="6.15" fill="#222" textLength="49.9" lengthAdjust="spacingAndGlyphs">Aged HSC-Primary</text>
<rect x="378.00" y="156.69" width="5.80" height="38.21" fill="#c0172d" />
<rect x="386.30" y="164.57" width="5.80" height="30.33" fill="#3aa7dc" />
<line x1="380.90" y1="156.69" x2="380.90" y2="153.83" stroke="#222" stroke-width="0.6" />
<line x1="379.50" y1="153.83" x2="382.30" y2="153.83" stroke="#222" stroke-width="0.6" />
<line x1="389.20" y1="164.57" x2="389.20" y2="163.14" stroke="#222" stroke-width="0.6" />
<line x1="387.80" y1="163.14" x2="390.60" y2="163.14" stroke="#222" stroke-width="0.6" />
<circle cx="380.90" cy="144.75" r="0.95" fill="#111" />
<circle cx="380.90" cy="149.53" r="0.95" fill="#111" />
<circle cx="380.90" cy="154.30" r="0.95" fill="#111" />
<circle cx="380.90" cy="156.69" r="0.95" fill="#111" />
<circle cx="380.90" cy="161.47" r="0.95" fill="#111" />
<circle cx="380.90" cy="168.63" r="0.95" fill="#111" />
<circle cx="389.20" cy="159.08" r="0.95" fill="#111" />
<circle cx="389.20" cy="161.47" r="0.95" fill="#111" />
<circle cx="389.20" cy="163.86" r="0.95" fill="#111" />
<circle cx="389.20" cy="166.24" r="0.95" fill="#111" />
<circle cx="389.20" cy="171.02" r="0.95" fill="#111" />
<rect x="400.00" y="179.38" width="5.80" height="15.52" fill="#c0172d" />
<rect x="408.30" y="185.35" width="5.80" height="9.55" fill="#3aa7dc" />
<line x1="402.90" y1="179.38" x2="402.90" y2="176.99" stroke="#222" stroke-width="0.6" />
<line x1="401.50" y1="176.99" x2="404.30" y2="176.99" stroke="#222" stroke-width="0.6" />
<line x1="411.20" y1="185.35" x2="411.20" y2="182.96" stroke="#222" stroke-width="0.6" />
<line x1="409.80" y1="182.96" x2="412.60" y2="182.96" stroke="#222" stroke-width="0.6" />
<circle cx="402.90" cy="171.02" r="0.95" fill="#111" />
<circle cx="402.90" cy="173.41" r="0.95" fill="#111" />
<circle cx="402.90" cy="175.80" r="0.95" fill="#111" />
<circle cx="402.90" cy="180.57" r="0.95" fill="#111" />
<circle cx="402.90" cy="185.35" r="0.95" fill="#111" />
<circle cx="411.20" cy="180.57" r="0.95" fill="#111" />
<circle cx="411.20" cy="182.96" r="0.95" fill="#111" />
<circle cx="411.20" cy="187.74" r="0.95" fill="#111" />
<circle cx="411.20" cy="190.12" r="0.95" fill="#111" />
<rect x="422.00" y="187.02" width="5.80" height="7.88" fill="#c0172d" />
<rect x="430.30" y="189.65" width="5.80" height="5.25" fill="#3aa7dc" />
<line x1="424.90" y1="187.02" x2="424.90" y2="185.35" stroke="#222" stroke-width="0.6" />
<line x1="423.50" y1="185.35" x2="426.30" y2="185.35" stroke="#222" stroke-width="0.6" />
<line x1="433.20" y1="189.65" x2="433.20" y2="188.69" stroke="#222" stroke-width="0.6" />
<line x1="431.80" y1="188.69" x2="434.60" y2="188.69" stroke="#222" stroke-width="0.6" />
<circle cx="424.90" cy="184.15" r="0.95" fill="#111" />
<circle cx="424.90" cy="186.54" r="0.95" fill="#111" />
<circle cx="424.90" cy="187.74" r="0.95" fill="#111" />
<circle cx="424.90" cy="190.12" r="0.95" fill="#111" />
<circle cx="433.20" cy="187.74" r="0.95" fill="#111" />
<circle cx="433.20" cy="188.93" r="0.95" fill="#111" />
<circle cx="433.20" cy="190.12" r="0.95" fill="#111" />
<circle cx="433.20" cy="191.32" r="0.95" fill="#111" />
<rect x="444.00" y="181.77" width="5.80" height="13.13" fill="#c0172d" />
<rect x="452.30" y="182.96" width="5.80" height="11.94" fill="#3aa7dc" />
<line x1="446.90" y1="181.77" x2="446.90" y2="180.57" stroke="#222" stroke-width="0.6" />
<line x1="445.50" y1="180.57" x2="448.30" y2="180.57" stroke="#222" stroke-width="0.6" />
<line x1="455.20" y1="182.96" x2="455.20" y2="180.57" stroke="#222" stroke-width="0.6" />
<line x1="453.80" y1="180.57" x2="456.60" y2="180.57" stroke="#222" stroke-width="0.6" />
<circle cx="446.90" cy="178.18" r="0.95" fill="#111" />
<circle cx="446.90" cy="180.57" r="0.95" fill="#111" />
<circle cx="446.90" cy="182.96" r="0.95" fill="#111" />
<circle cx="446.90" cy="185.35" r="0.95" fill="#111" />
<circle cx="455.20" cy="176.99" r="0.95" fill="#111" />
<circle cx="455.20" cy="179.38" r="0.95" fill="#111" />
<circle cx="455.20" cy="182.96" r="0.95" fill="#111" />
<circle cx="455.20" cy="185.35" r="0.95" fill="#111" />
<circle cx="455.20" cy="187.74" r="0.95" fill="#111" />
<rect x="466.30" y="193.23" width="5.80" height="1.67" fill="#c0172d" />
<rect x="474.60" y="191.08" width="5.80" height="3.82" fill="#3aa7dc" />
<line x1="469.20" y1="193.23" x2="469.20" y2="192.75" stroke="#222" stroke-width="0.6" />
<line x1="467.80" y1="192.75" x2="470.60" y2="192.75" stroke="#222" stroke-width="0.6" />
<line x1="477.50" y1="191.08" x2="477.50" y2="189.65" stroke="#222" stroke-width="0.6" />
<line x1="476.10" y1="189.65" x2="478.90" y2="189.65" stroke="#222" stroke-width="0.6" />
<circle cx="469.20" cy="192.75" r="0.95" fill="#111" />
<circle cx="469.20" cy="193.47" r="0.95" fill="#111" />
<circle cx="469.20" cy="193.71" r="0.95" fill="#111" />
<circle cx="477.50" cy="187.74" r="0.95" fill="#111" />
<circle cx="477.50" cy="190.12" r="0.95" fill="#111" />
<circle cx="477.50" cy="192.03" r="0.95" fill="#111" />
<circle cx="477.50" cy="192.99" r="0.95" fill="#111" />
<line x1="375.50" y1="195.40" x2="375.50" y2="132.50" stroke="#333" stroke-width="1.3" />
<line x1="372.70" y1="194.90" x2="375.50" y2="194.90" stroke="#333" stroke-width="1.105" />
<text x="369.50" y="196.80" font-size="6.0" text-anchor="end" fill="#404040">0</text>
<line x1="372.70" y1="182.96" x2="375.50" y2="182.96" stroke="#333" stroke-width="1.105" />
<text x="369.50" y="184.86" font-size="6.0" text-anchor="end" fill="#404040">0.05</text>
<line x1="372.70" y1="171.02" x2="375.50" y2="171.02" stroke="#333" stroke-width="1.105" />
<text x="369.50" y="172.92" font-size="6.0" text-anchor="end" fill="#404040">0.10</text>
<line x1="372.70" y1="159.08" x2="375.50" y2="159.08" stroke="#333" stroke-width="1.105" />
<text x="369.50" y="160.98" font-size="6.0" text-anchor="end" fill="#404040">0.15</text>
<line x1="372.70" y1="147.14" x2="375.50" y2="147.14" stroke="#333" stroke-width="1.105" />
<text x="369.50" y="149.04" font-size="6.0" text-anchor="end" fill="#404040">0.20</text>
<line x1="372.70" y1="135.20" x2="375.50" y2="135.20" stroke="#333" stroke-width="1.105" />
<text x="369.50" y="137.10" font-size="6.0" text-anchor="end" fill="#404040">0.25</text>
<line x1="375.00" y1="195.30" x2="482.00" y2="195.30" stroke="#333" stroke-width="1.3" />
<line x1="385.00" y1="195.30" x2="385.00" y2="197.90" stroke="#333" stroke-width="1.0" />
<line x1="407.00" y1="195.30" x2="407.00" y2="197.90" stroke="#333" stroke-width="1.0" />
<line x1="429.00" y1="195.30" x2="429.00" y2="197.90" stroke="#333" stroke-width="1.0" />
<line x1="451.00" y1="195.30" x2="451.00" y2="197.90" stroke="#333" stroke-width="1.0" />
<line x1="473.30" y1="195.30" x2="473.30" y2="197.90" stroke="#333" stroke-width="1.0" />
<text x="385.20" y="206.80" font-size="6.3" text-anchor="middle" fill="#222">LSK</text>
<text x="407.20" y="206.80" font-size="6.3" text-anchor="middle" fill="#222">HSC</text>
<text x="429.20" y="206.80" font-size="6.3" text-anchor="middle" fill="#222">MPP</text>
<text x="451.20" y="206.80" font-size="6.3" text-anchor="middle" fill="#222">HPC1</text>
<text x="473.50" y="206.80" font-size="6.3" text-anchor="middle" fill="#222">HPC2</text>
<path d="M381.00,141.30 L381.00,138.50 L389.60,138.50 L389.60,141.30" fill="none" stroke="#333" stroke-width="0.7"/>
<circle cx="385.30" cy="135.60" r="0.72" fill="#1a1a1a" />
<path d="M402.70,168.20 L402.70,165.40 L411.70,165.40 L411.70,168.20" fill="none" stroke="#333" stroke-width="0.7"/>
<circle cx="407.20" cy="162.50" r="0.72" fill="#1a1a1a" />
<text x="352.20" y="163.70" font-size="8.0" text-anchor="middle" fill="#2a2a2a" textLength="62" lengthAdjust="spacingAndGlyphs" transform="rotate(-90 352.20 163.70)" stroke="#2a2a2a" stroke-width="0.12">% in Single live BM cells</text>
<rect x="481.60" y="143.10" width="6.40" height="3.00" fill="#c0172d" />
<text x="491.00" y="146.90" font-size="6.4" fill="#222">WT</text>
<rect x="481.60" y="150.50" width="6.40" height="3.00" fill="#3aa7dc" />
<text x="491.00" y="154.20" font-size="6.2" fill="#222" font-style="italic">Gata2<tspan font-size="3.72" dy="-2.48">+/-</tspan></text>
<text x="6.40" y="256.50" font-size="11" font-weight="bold" fill="#000" stroke="#000" stroke-width="0.25">H</text>
<text x="41.50" y="260.80" font-size="6.15" fill="#222" textLength="71" lengthAdjust="spacingAndGlyphs">PB Chimerism - Secondary</text>
<line x1="47.60" y1="307.98" x2="47.60" y2="302.64" stroke="#3e9fcc" stroke-width="0.7" />
<line x1="46.10" y1="302.64" x2="49.10" y2="302.64" stroke="#3e9fcc" stroke-width="0.7" />
<line x1="62.33" y1="307.65" x2="62.33" y2="299.63" stroke="#3e9fcc" stroke-width="0.7" />
<line x1="60.83" y1="299.63" x2="63.83" y2="299.63" stroke="#3e9fcc" stroke-width="0.7" />
<line x1="77.06" y1="293.62" x2="77.06" y2="285.60" stroke="#3e9fcc" stroke-width="0.7" />
<line x1="75.56" y1="285.60" x2="78.56" y2="285.60" stroke="#3e9fcc" stroke-width="0.7" />
<line x1="91.79" y1="291.61" x2="91.79" y2="283.26" stroke="#3e9fcc" stroke-width="0.7" />
<line x1="90.29" y1="283.26" x2="93.29" y2="283.26" stroke="#3e9fcc" stroke-width="0.7" />
<line x1="106.52" y1="307.98" x2="106.52" y2="299.30" stroke="#3e9fcc" stroke-width="0.7" />
<line x1="105.02" y1="299.30" x2="108.02" y2="299.30" stroke="#3e9fcc" stroke-width="0.7" />
<polyline points="47.60,307.98 62.33,307.65 77.06,293.62 91.79,291.61 106.52,307.98" fill="none" stroke="#3e9fcc" stroke-width="0.9"/>
<circle cx="47.60" cy="307.98" r="1.55" fill="#2f8fbf" />
<circle cx="62.33" cy="307.65" r="1.55" fill="#2f8fbf" />
<circle cx="77.06" cy="293.62" r="1.55" fill="#2f8fbf" />
<circle cx="91.79" cy="291.61" r="1.55" fill="#2f8fbf" />
<circle cx="106.52" cy="307.98" r="1.55" fill="#2f8fbf" />
<polyline points="47.60,296.62 62.33,279.26 77.06,276.25 91.79,274.25 106.52,275.25" fill="none" stroke="#c93a57" stroke-width="0.9"/>
<rect x="45.80" y="294.82" width="3.6" height="3.6" fill="#f6d3db" stroke="#c93a57" stroke-width="0.8"/>
<rect x="60.53" y="277.46" width="3.6" height="3.6" fill="#f6d3db" stroke="#c93a57" stroke-width="0.8"/>
<rect x="75.26" y="274.45" width="3.6" height="3.6" fill="#f6d3db" stroke="#c93a57" stroke-width="0.8"/>
<rect x="89.99" y="272.45" width="3.6" height="3.6" fill="#f6d3db" stroke="#c93a57" stroke-width="0.8"/>
<rect x="104.72" y="273.45" width="3.6" height="3.6" fill="#f6d3db" stroke="#c93a57" stroke-width="0.8"/>
<line x1="38.20" y1="335.20" x2="38.20" y2="266.00" stroke="#333" stroke-width="1.3" />
<line x1="35.40" y1="334.70" x2="38.20" y2="334.70" stroke="#333" stroke-width="1.105" />
<text x="32.30" y="336.60" font-size="6.0" text-anchor="end" fill="#404040">0</text>
<line x1="35.40" y1="321.34" x2="38.20" y2="321.34" stroke="#333" stroke-width="1.105" />
<text x="32.30" y="323.24" font-size="6.0" text-anchor="end" fill="#404040">20</text>
<line x1="35.40" y1="307.98" x2="38.20" y2="307.98" stroke="#333" stroke-width="1.105" />
<text x="32.30" y="309.88" font-size="6.0" text-anchor="end" fill="#404040">40</text>
<line x1="35.40" y1="294.62" x2="38.20" y2="294.62" stroke="#333" stroke-width="1.105" />
<text x="32.30" y="296.52" font-size="6.0" text-anchor="end" fill="#404040">60</text>
<line x1="35.40" y1="281.26" x2="38.20" y2="281.26" stroke="#333" stroke-width="1.105" />
<text x="32.30" y="283.16" font-size="6.0" text-anchor="end" fill="#404040">80</text>
<line x1="35.40" y1="267.90" x2="38.20" y2="267.90" stroke="#333" stroke-width="1.105" />
<text x="32.30" y="269.80" font-size="6.0" text-anchor="end" fill="#404040">100</text>
<line x1="37.00" y1="334.70" x2="115.60" y2="334.70" stroke="#333" stroke-width="1.3" />
<line x1="47.60" y1="334.70" x2="47.60" y2="337.30" stroke="#333" stroke-width="1.0" />
<line x1="62.33" y1="334.70" x2="62.33" y2="337.30" stroke="#333" stroke-width="1.0" />
<line x1="77.06" y1="334.70" x2="77.06" y2="337.30" stroke="#333" stroke-width="1.0" />
<line x1="91.79" y1="334.70" x2="91.79" y2="337.30" stroke="#333" stroke-width="1.0" />
<line x1="106.52" y1="334.70" x2="106.52" y2="337.30" stroke="#333" stroke-width="1.0" />
<text x="47.60" y="346.30" font-size="6.0" text-anchor="middle" fill="#222">1</text>
<text x="62.33" y="346.30" font-size="6.0" text-anchor="middle" fill="#222">2</text>
<text x="77.06" y="346.30" font-size="6.0" text-anchor="middle" fill="#222">3</text>
<text x="91.79" y="346.30" font-size="6.0" text-anchor="middle" fill="#222">4</text>
<text x="106.52" y="346.30" font-size="6.0" text-anchor="middle" fill="#222">5</text>
<text x="77.40" y="357.30" font-size="8.4" text-anchor="middle" fill="#262626" textLength="70" lengthAdjust="spacingAndGlyphs" stroke="#262626" stroke-width="0.12">Months after transplantation</text>
<text x="17.00" y="300.00" font-size="8.0" text-anchor="middle" fill="#2a2a2a" textLength="50.5" lengthAdjust="spacingAndGlyphs" transform="rotate(-90 17.00 300.00)" stroke="#2a2a2a" stroke-width="0.12">% Donor chimerism</text>
<circle cx="61.28" cy="274.20" r="0.72" fill="#1a1a1a" />
<circle cx="63.38" cy="274.20" r="0.72" fill="#1a1a1a" />
<circle cx="77.06" cy="271.00" r="0.72" fill="#1a1a1a" />
<circle cx="91.79" cy="269.00" r="0.72" fill="#1a1a1a" />
<circle cx="106.52" cy="269.50" r="0.72" fill="#1a1a1a" />
<text x="131.10" y="256.00" font-size="11" font-weight="bold" fill="#000" stroke="#000" stroke-width="0.25">I</text>
<text x="172.60" y="260.80" font-size="6.15" fill="#222" textLength="48.4" lengthAdjust="spacingAndGlyphs">WBC - Secondary</text>
<line x1="181.92" y1="311.43" x2="181.92" y2="308.76" stroke="#3e9fcc" stroke-width="0.7" />
<line x1="180.42" y1="308.76" x2="183.42" y2="308.76" stroke="#3e9fcc" stroke-width="0.7" />
<line x1="196.54" y1="308.10" x2="196.54" y2="304.77" stroke="#3e9fcc" stroke-width="0.7" />
<line x1="195.04" y1="304.77" x2="198.04" y2="304.77" stroke="#3e9fcc" stroke-width="0.7" />
<line x1="211.16" y1="307.44" x2="211.16" y2="303.44" stroke="#3e9fcc" stroke-width="0.7" />
<line x1="209.66" y1="303.44" x2="212.66" y2="303.44" stroke="#3e9fcc" stroke-width="0.7" />
<line x1="225.78" y1="316.08" x2="225.78" y2="312.75" stroke="#3e9fcc" stroke-width="0.7" />
<line x1="224.28" y1="312.75" x2="227.28" y2="312.75" stroke="#3e9fcc" stroke-width="0.7" />
<polyline points="167.30,316.08 181.92,311.43 196.54,308.10 211.16,307.44 225.78,316.08" fill="none" stroke="#3e9fcc" stroke-width="0.9"/>
<circle cx="167.30" cy="316.08" r="1.55" fill="#2f8fbf" />
<circle cx="181.92" cy="311.43" r="1.55" fill="#2f8fbf" />
<circle cx="196.54" cy="308.10" r="1.55" fill="#2f8fbf" />
<circle cx="211.16" cy="307.44" r="1.55" fill="#2f8fbf" />
<circle cx="225.78" cy="316.08" r="1.55" fill="#2f8fbf" />
<line x1="181.92" y1="303.44" x2="181.92" y2="298.12" stroke="#c93a57" stroke-width="0.7" />
<line x1="180.42" y1="298.12" x2="183.42" y2="298.12" stroke="#c93a57" stroke-width="0.7" />
<line x1="196.54" y1="295.46" x2="196.54" y2="288.81" stroke="#c93a57" stroke-width="0.7" />
<line x1="195.04" y1="288.81" x2="198.04" y2="288.81" stroke="#c93a57" stroke-width="0.7" />
<line x1="211.16" y1="296.13" x2="211.16" y2="286.82" stroke="#c93a57" stroke-width="0.7" />
<line x1="209.66" y1="286.82" x2="212.66" y2="286.82" stroke="#c93a57" stroke-width="0.7" />
<line x1="225.78" y1="306.11" x2="225.78" y2="302.12" stroke="#c93a57" stroke-width="0.7" />
<line x1="224.28" y1="302.12" x2="227.28" y2="302.12" stroke="#c93a57" stroke-width="0.7" />
<polyline points="167.30,311.43 181.92,303.44 196.54,295.46 211.16,296.13 225.78,306.11" fill="none" stroke="#c93a57" stroke-width="0.9"/>
<rect x="165.50" y="309.62" width="3.6" height="3.6" fill="#f6d3db" stroke="#c93a57" stroke-width="0.8"/>
<rect x="180.12" y="301.64" width="3.6" height="3.6" fill="#f6d3db" stroke="#c93a57" stroke-width="0.8"/>
<rect x="194.74" y="293.66" width="3.6" height="3.6" fill="#f6d3db" stroke="#c93a57" stroke-width="0.8"/>
<rect x="209.36" y="294.33" width="3.6" height="3.6" fill="#f6d3db" stroke="#c93a57" stroke-width="0.8"/>
<rect x="223.98" y="304.31" width="3.6" height="3.6" fill="#f6d3db" stroke="#c93a57" stroke-width="0.8"/>
<line x1="157.00" y1="335.20" x2="157.00" y2="266.50" stroke="#333" stroke-width="1.3" />
<line x1="154.20" y1="334.70" x2="157.00" y2="334.70" stroke="#333" stroke-width="1.105" />
<text x="151.20" y="336.60" font-size="6.0" text-anchor="end" fill="#404040">0</text>
<line x1="154.20" y1="301.45" x2="157.00" y2="301.45" stroke="#333" stroke-width="1.105" />
<text x="151.20" y="303.35" font-size="6.0" text-anchor="end" fill="#404040">5</text>
<line x1="154.20" y1="268.20" x2="157.00" y2="268.20" stroke="#333" stroke-width="1.105" />
<text x="151.20" y="270.10" font-size="6.0" text-anchor="end" fill="#404040">10</text>
<line x1="156.00" y1="334.70" x2="235.80" y2="334.70" stroke="#333" stroke-width="1.3" />
<line x1="167.30" y1="334.70" x2="167.30" y2="337.30" stroke="#333" stroke-width="1.0" />
<line x1="181.92" y1="334.70" x2="181.92" y2="337.30" stroke="#333" stroke-width="1.0" />
<line x1="196.54" y1="334.70" x2="196.54" y2="337.30" stroke="#333" stroke-width="1.0" />
<line x1="211.16" y1="334.70" x2="211.16" y2="337.30" stroke="#333" stroke-width="1.0" />
<line x1="225.78" y1="334.70" x2="225.78" y2="337.30" stroke="#333" stroke-width="1.0" />
<text x="167.30" y="346.30" font-size="6.0" text-anchor="middle" fill="#222">1</text>
<text x="181.92" y="346.30" font-size="6.0" text-anchor="middle" fill="#222">2</text>
<text x="196.54" y="346.30" font-size="6.0" text-anchor="middle" fill="#222">3</text>
<text x="211.16" y="346.30" font-size="6.0" text-anchor="middle" fill="#222">4</text>
<text x="225.78" y="346.30" font-size="6.0" text-anchor="middle" fill="#222">5</text>
<text x="197.40" y="357.30" font-size="8.4" text-anchor="middle" fill="#262626" textLength="70" lengthAdjust="spacingAndGlyphs" stroke="#262626" stroke-width="0.12">Months after transplantation</text>
<text x="140.00" y="299.70" font-size="8.0" text-anchor="middle" fill="#2a2a2a" textLength="22.7" lengthAdjust="spacingAndGlyphs" transform="rotate(-90 140.00 299.70)" stroke="#2a2a2a" stroke-width="0.12">10<tspan font-size="4" dy="-2.80">6</tspan><tspan dy="2.80">/mm</tspan><tspan font-size="4" dy="-2.80">3</tspan></text>
<text x="248.40" y="256.20" font-size="11" font-weight="bold" fill="#000" stroke="#000" stroke-width="0.25">J</text>
<text x="288.00" y="260.80" font-size="6.15" fill="#222" textLength="53.6" lengthAdjust="spacingAndGlyphs">B-cell PB Secondary</text>
<line x1="285.70" y1="314.60" x2="285.70" y2="301.20" stroke="#3e9fcc" stroke-width="0.7" />
<line x1="284.20" y1="301.20" x2="287.20" y2="301.20" stroke="#3e9fcc" stroke-width="0.7" />
<line x1="300.38" y1="318.62" x2="300.38" y2="309.24" stroke="#3e9fcc" stroke-width="0.7" />
<line x1="298.88" y1="309.24" x2="301.88" y2="309.24" stroke="#3e9fcc" stroke-width="0.7" />
<line x1="315.06" y1="316.61" x2="315.06" y2="306.56" stroke="#3e9fcc" stroke-width="0.7" />
<line x1="313.56" y1="306.56" x2="316.56" y2="306.56" stroke="#3e9fcc" stroke-width="0.7" />
<line x1="329.74" y1="315.94" x2="329.74" y2="305.22" stroke="#3e9fcc" stroke-width="0.7" />
<line x1="328.24" y1="305.22" x2="331.24" y2="305.22" stroke="#3e9fcc" stroke-width="0.7" />
<line x1="344.42" y1="329.34" x2="344.42" y2="323.98" stroke="#3e9fcc" stroke-width="0.7" />
<line x1="342.92" y1="323.98" x2="345.92" y2="323.98" stroke="#3e9fcc" stroke-width="0.7" />
<polyline points="285.70,314.60 300.38,318.62 315.06,316.61 329.74,315.94 344.42,329.34" fill="none" stroke="#3e9fcc" stroke-width="0.9"/>
<circle cx="285.70" cy="314.60" r="1.55" fill="#2f8fbf" />
<circle cx="300.38" cy="318.62" r="1.55" fill="#2f8fbf" />
<circle cx="315.06" cy="316.61" r="1.55" fill="#2f8fbf" />
<circle cx="329.74" cy="315.94" r="1.55" fill="#2f8fbf" />
<circle cx="344.42" cy="329.34" r="1.55" fill="#2f8fbf" />
<line x1="285.70" y1="308.57" x2="285.70" y2="295.84" stroke="#c93a57" stroke-width="0.7" />
<line x1="284.20" y1="295.84" x2="287.20" y2="295.84" stroke="#c93a57" stroke-width="0.7" />
<line x1="300.38" y1="293.16" x2="300.38" y2="285.12" stroke="#c93a57" stroke-width="0.7" />
<line x1="298.88" y1="285.12" x2="301.88" y2="285.12" stroke="#c93a57" stroke-width="0.7" />
<line x1="315.06" y1="288.47" x2="315.06" y2="281.10" stroke="#c93a57" stroke-width="0.7" />
<line x1="313.56" y1="281.10" x2="316.56" y2="281.10" stroke="#c93a57" stroke-width="0.7" />
<line x1="329.74" y1="279.76" x2="329.74" y2="271.72" stroke="#c93a57" stroke-width="0.7" />
<line x1="328.24" y1="271.72" x2="331.24" y2="271.72" stroke="#c93a57" stroke-width="0.7" />
<line x1="344.42" y1="297.18" x2="344.42" y2="283.78" stroke="#c93a57" stroke-width="0.7" />
<line x1="342.92" y1="283.78" x2="345.92" y2="283.78" stroke="#c93a57" stroke-width="0.7" />
<polyline points="285.70,308.57 300.38,293.16 315.06,288.47 329.74,279.76 344.42,297.18" fill="none" stroke="#c93a57" stroke-width="0.9"/>
<rect x="283.90" y="306.77" width="3.6" height="3.6" fill="#f6d3db" stroke="#c93a57" stroke-width="0.8"/>
<rect x="298.58" y="291.36" width="3.6" height="3.6" fill="#f6d3db" stroke="#c93a57" stroke-width="0.8"/>
<rect x="313.26" y="286.67" width="3.6" height="3.6" fill="#f6d3db" stroke="#c93a57" stroke-width="0.8"/>
<rect x="327.94" y="277.96" width="3.6" height="3.6" fill="#f6d3db" stroke="#c93a57" stroke-width="0.8"/>
<rect x="342.62" y="295.38" width="3.6" height="3.6" fill="#f6d3db" stroke="#c93a57" stroke-width="0.8"/>
<line x1="275.80" y1="335.20" x2="275.80" y2="266.00" stroke="#333" stroke-width="1.3" />
<line x1="273.00" y1="334.70" x2="275.80" y2="334.70" stroke="#333" stroke-width="1.105" />
<text x="270.40" y="336.60" font-size="6.4" text-anchor="end" fill="#404040">0</text>
<line x1="273.00" y1="321.30" x2="275.80" y2="321.30" stroke="#333" stroke-width="1.105" />
<text x="270.40" y="323.20" font-size="6.4" text-anchor="end" fill="#404040">10</text>
<line x1="273.00" y1="307.90" x2="275.80" y2="307.90" stroke="#333" stroke-width="1.105" />
<text x="270.40" y="309.80" font-size="6.4" text-anchor="end" fill="#404040">20</text>
<line x1="273.00" y1="294.50" x2="275.80" y2="294.50" stroke="#333" stroke-width="1.105" />
<text x="270.40" y="296.40" font-size="6.4" text-anchor="end" fill="#404040">30</text>
<line x1="273.00" y1="281.10" x2="275.80" y2="281.10" stroke="#333" stroke-width="1.105" />
<text x="270.40" y="283.00" font-size="6.4" text-anchor="end" fill="#404040">40</text>
<line x1="273.00" y1="267.70" x2="275.80" y2="267.70" stroke="#333" stroke-width="1.105" />
<text x="270.40" y="269.60" font-size="6.4" text-anchor="end" fill="#404040">50</text>
<line x1="274.80" y1="334.70" x2="353.60" y2="334.70" stroke="#333" stroke-width="1.3" />
<line x1="285.70" y1="334.70" x2="285.70" y2="337.30" stroke="#333" stroke-width="1.0" />
<line x1="300.38" y1="334.70" x2="300.38" y2="337.30" stroke="#333" stroke-width="1.0" />
<line x1="315.06" y1="334.70" x2="315.06" y2="337.30" stroke="#333" stroke-width="1.0" />
<line x1="329.74" y1="334.70" x2="329.74" y2="337.30" stroke="#333" stroke-width="1.0" />
<line x1="344.42" y1="334.70" x2="344.42" y2="337.30" stroke="#333" stroke-width="1.0" />
<text x="285.70" y="346.30" font-size="6.0" text-anchor="middle" fill="#222">1</text>
<text x="300.38" y="346.30" font-size="6.0" text-anchor="middle" fill="#222">2</text>
<text x="315.06" y="346.30" font-size="6.0" text-anchor="middle" fill="#222">3</text>
<text x="329.74" y="346.30" font-size="6.0" text-anchor="middle" fill="#222">4</text>
<text x="344.42" y="346.30" font-size="6.0" text-anchor="middle" fill="#222">5</text>
<text x="314.40" y="357.30" font-size="8.4" text-anchor="middle" fill="#262626" textLength="70" lengthAdjust="spacingAndGlyphs" stroke="#262626" stroke-width="0.12">Months after transplantation</text>
<text x="258.00" y="300.40" font-size="8.0" text-anchor="middle" fill="#2a2a2a" textLength="71.6" lengthAdjust="spacingAndGlyphs" transform="rotate(-90 258.00 300.40)" stroke="#2a2a2a" stroke-width="0.12">% Single live donor PB cells</text>
<circle cx="300.38" cy="282.50" r="0.72" fill="#1a1a1a" />
<circle cx="315.06" cy="278.00" r="0.72" fill="#1a1a1a" />
<circle cx="329.74" cy="269.50" r="0.72" fill="#1a1a1a" />
<line x1="343.50" y1="269.40" x2="351.00" y2="269.40" stroke="#c93a57" stroke-width="0.9" />
<circle cx="347.20" cy="269.40" r="1.20" fill="#c93a57" />
<text x="353.30" y="271.50" font-size="6.0" fill="#222" textLength="24.2" lengthAdjust="spacingAndGlyphs">aged-WT</text>
<line x1="343.50" y1="276.90" x2="351.00" y2="276.90" stroke="#3e9fcc" stroke-width="0.9" />
<circle cx="347.20" cy="276.90" r="1.20" fill="#3e9fcc" />
<text x="353.30" y="279.00" font-size="6.0" fill="#222">aged-Gata2<tspan font-size="3.60" dy="-2.40">+/-</tspan></text>
<text x="405.80" y="257.20" font-size="11" font-weight="bold" fill="#000" stroke="#000" stroke-width="0.25">K</text>
<text x="422.90" y="265.00" font-size="6.15" fill="#222" textLength="71" lengthAdjust="spacingAndGlyphs">PB - Secondary (5 months)</text>
<rect x="441.00" y="314.20" width="11.60" height="18.40" fill="#5a1f73" />
<rect x="441.00" y="299.30" width="11.60" height="14.90" fill="#3aa9e0" />
<rect x="441.00" y="291.40" width="11.60" height="7.90" fill="#3d9f46" />
<rect x="441.00" y="283.00" width="11.60" height="8.40" fill="#f59c1d" />
<rect x="441.00" y="282.50" width="11.60" height="0.50" fill="#8a2a1a" />
<rect x="459.00" y="330.50" width="11.60" height="2.10" fill="#1f2a6b" />
<rect x="459.00" y="326.00" width="11.60" height="4.50" fill="#3aa9e0" />
<rect x="459.00" y="322.50" width="11.60" height="3.50" fill="#3d9f46" />
<rect x="459.00" y="318.80" width="11.60" height="3.70" fill="#f59c1d" />
<rect x="459.00" y="318.20" width="11.60" height="0.60" fill="#8a2a1a" />
<line x1="446.80" y1="281.00" x2="446.80" y2="283.20" stroke="#333" stroke-width="0.55" />
<line x1="445.00" y1="281.00" x2="448.60" y2="281.00" stroke="#2a2a2a" stroke-width="0.8" />
<line x1="446.80" y1="291.60" x2="446.80" y2="299.20" stroke="#2a2a2a" stroke-width="0.55" />
<line x1="445.20" y1="291.80" x2="448.40" y2="291.80" stroke="#2a2a2a" stroke-width="0.7" />
<line x1="446.80" y1="299.40" x2="446.80" y2="313.50" stroke="#2a2a2a" stroke-width="0.55" />
<line x1="445.20" y1="304.80" x2="448.40" y2="304.80" stroke="#2a2a2a" stroke-width="0.7" />
<line x1="445.20" y1="299.60" x2="448.40" y2="299.60" stroke="#2a2a2a" stroke-width="0.7" />
<line x1="464.80" y1="318.00" x2="464.80" y2="330.00" stroke="#2a2a2a" stroke-width="0.55" />
<line x1="463.00" y1="318.00" x2="466.60" y2="318.00" stroke="#2a2a2a" stroke-width="0.8" />
<line x1="463.20" y1="322.60" x2="466.40" y2="322.60" stroke="#2a2a2a" stroke-width="0.7" />
<line x1="463.20" y1="326.50" x2="466.40" y2="326.50" stroke="#2a2a2a" stroke-width="0.7" />
<line x1="432.00" y1="333.10" x2="432.00" y2="271.00" stroke="#333" stroke-width="1.3" />
<line x1="429.20" y1="332.60" x2="432.00" y2="332.60" stroke="#333" stroke-width="1.105" />
<text x="426.70" y="334.50" font-size="6.0" text-anchor="end" fill="#404040">0</text>
<line x1="429.20" y1="302.70" x2="432.00" y2="302.70" stroke="#333" stroke-width="1.105" />
<text x="426.70" y="304.60" font-size="6.0" text-anchor="end" fill="#404040">5</text>
<line x1="429.20" y1="272.80" x2="432.00" y2="272.80" stroke="#333" stroke-width="1.105" />
<text x="426.70" y="274.70" font-size="6.0" text-anchor="end" fill="#404040">10</text>
<line x1="431.00" y1="332.60" x2="484.60" y2="332.60" stroke="#333" stroke-width="1.3" />
<line x1="446.80" y1="332.60" x2="446.80" y2="335.20" stroke="#333" stroke-width="1.0" />
<line x1="464.80" y1="332.60" x2="464.80" y2="335.20" stroke="#333" stroke-width="1.0" />
<text x="446.50" y="343.50" font-size="6.0" text-anchor="middle" fill="#222">WT</text>
<text x="455.70" y="343.60" font-size="6.4" fill="#222" font-style="italic">Gata2<tspan font-size="3.84" dy="-2.56">+/-</tspan></text>
<text x="414.20" y="301.40" font-size="8.0" text-anchor="middle" fill="#2a2a2a" textLength="64" lengthAdjust="spacingAndGlyphs" transform="rotate(-90 414.20 301.40)" stroke="#2a2a2a" stroke-width="0.12">Number of donor PB cells</text>
<rect x="466.80" y="277.50" width="4.80" height="2.80" fill="#5a1f73" />
<text x="474.30" y="281.00" font-size="6.0" fill="#222">B-cell *</text>
<rect x="466.80" y="283.50" width="4.80" height="2.80" fill="#3aa9e0" />
<text x="474.30" y="287.00" font-size="6.0" fill="#222">T-cell</text>
<rect x="466.80" y="289.80" width="4.80" height="2.80" fill="#3d9f46" />
<text x="474.30" y="293.30" font-size="6.0" fill="#222">monocyte*</text>
<rect x="466.80" y="296.20" width="4.80" height="2.80" fill="#f59c1d" />
<text x="474.30" y="299.70" font-size="6.0" fill="#222">neutrophil</text>
<rect x="466.80" y="302.50" width="4.80" height="2.80" fill="#d21a1f" />
<text x="474.30" y="306.00" font-size="6.0" fill="#222">other myeloid</text>
<text x="8.20" y="384.20" font-size="11" font-weight="bold" fill="#000" stroke="#000" stroke-width="0.25">L</text>
<rect x="15.90" y="398.50" width="91.30" height="44.50" fill="#fcfaf8" />
<circle cx="27.50" cy="416.80" r="9.30" fill="#e6f1f7" />
<circle cx="27.50" cy="416.80" r="8.90" fill="#2f6d91" />
<circle cx="27.50" cy="416.8" r="7.9" fill="none" stroke="#4c87a8" stroke-width="0.8"/>
<circle cx="27.20" cy="416.20" r="5.80" fill="#245e7f" />
<text x="27.50" y="404.60" font-size="4.2" text-anchor="middle" fill="#3a3030">PrePro</text>
<text x="22.20" y="431.20" font-size="4.6" fill="#2e2626">B220</text>
<text x="22.20" y="436.00" font-size="4.6" fill="#2e2626">CD43<tspan font-size="2.8" dy="-1.96">hi</tspan></text>
<text x="22.20" y="440.80" font-size="4.6" fill="#2e2626">CD19<tspan font-size="2.8" dy="-1.96">lo</tspan></text>
<circle cx="50.25" cy="416.80" r="9.30" fill="#e6f1f7" />
<circle cx="50.25" cy="416.80" r="8.90" fill="#84c0d4" />
<circle cx="50.25" cy="416.8" r="7.9" fill="none" stroke="#a9d6e4" stroke-width="0.8"/>
<circle cx="49.95" cy="416.20" r="5.80" fill="#66acc4" />
<text x="50.25" y="404.60" font-size="4.2" text-anchor="middle" fill="#3a3030">Pro</text>
<text x="44.95" y="431.20" font-size="4.6" fill="#2e2626">B220<tspan font-size="2.8" dy="-1.96">+</tspan></text>
<text x="44.95" y="436.00" font-size="4.6" fill="#2e2626">CD43<tspan font-size="2.8" dy="-1.96">hi</tspan></text>
<text x="44.95" y="440.80" font-size="4.6" fill="#2e2626">CD19<tspan font-size="2.8" dy="-1.96">lo</tspan></text>
<circle cx="73.00" cy="416.80" r="9.30" fill="#e6f1f7" />
<circle cx="73.00" cy="416.80" r="8.90" fill="#b9e0f0" />
<circle cx="73.00" cy="416.8" r="7.9" fill="none" stroke="#d2ecf6" stroke-width="0.8"/>
<circle cx="72.70" cy="416.20" r="5.80" fill="#a6d6ea" />
<text x="73.00" y="404.60" font-size="4.2" text-anchor="middle" fill="#3a3030">Pre</text>
<text x="67.70" y="431.20" font-size="4.6" fill="#2e2626">B220<tspan font-size="2.8" dy="-1.96">+</tspan></text>
<text x="67.70" y="436.00" font-size="4.6" fill="#2e2626">CD43<tspan font-size="2.8" dy="-1.96">lo</tspan></text>
<text x="67.70" y="440.80" font-size="4.6" fill="#2e2626">Igm</text>
<circle cx="95.75" cy="416.80" r="9.30" fill="#e6f1f7" />
<circle cx="95.75" cy="416.80" r="8.90" fill="#d5e6f4" />
<circle cx="95.75" cy="416.8" r="7.9" fill="none" stroke="#eaf3fa" stroke-width="0.8"/>
<circle cx="95.45" cy="416.20" r="5.80" fill="#c4dcef" />
<text x="95.75" y="404.60" font-size="4.2" text-anchor="middle" fill="#3a3030">Igm<tspan font-size="2.8" dy="-1.96">+</tspan></text>
<text x="90.45" y="431.20" font-size="4.6" fill="#2e2626">B220<tspan font-size="2.8" dy="-1.96">+</tspan></text>
<text x="90.45" y="436.00" font-size="4.6" fill="#2e2626">CD43<tspan font-size="2.8" dy="-1.96">lo</tspan></text>
<text x="90.45" y="440.80" font-size="4.6" fill="#2e2626">Igm<tspan font-size="2.8" dy="-1.96">lo</tspan></text>
<text x="122.20" y="384.20" font-size="11" font-weight="bold" fill="#000" stroke="#000" stroke-width="0.25">M</text>
<text x="162.10" y="391.60" font-size="6.15" fill="#222" textLength="55.4" lengthAdjust="spacingAndGlyphs">BM B-cell Secondary</text>
<rect x="163.00" y="462.18" width="11.40" height="4.02" fill="#1b3a72" />
<rect x="163.00" y="451.12" width="11.40" height="11.06" fill="#476fa6" />
<rect x="163.00" y="412.60" width="11.40" height="38.53" fill="#8e9ecb" />
<rect x="163.00" y="410.59" width="11.40" height="2.01" fill="#c7cee7" />
<rect x="181.20" y="462.85" width="11.20" height="3.35" fill="#1b3a72" />
<rect x="181.20" y="458.50" width="11.20" height="4.35" fill="#476fa6" />
<rect x="181.20" y="452.80" width="11.20" height="5.69" fill="#8e9ecb" />
<rect x="181.20" y="452.30" width="11.20" height="0.50" fill="#c7cee7" />
<line x1="168.70" y1="410.59" x2="168.70" y2="402.55" stroke="#222" stroke-width="0.6" />
<line x1="166.80" y1="402.55" x2="170.60" y2="402.55" stroke="#222" stroke-width="0.7" />
<line x1="168.70" y1="412.60" x2="168.70" y2="408.58" stroke="#222" stroke-width="0.6" />
<line x1="166.80" y1="408.58" x2="170.60" y2="408.58" stroke="#222" stroke-width="0.7" />
<line x1="168.70" y1="451.12" x2="168.70" y2="449.12" stroke="#222" stroke-width="0.6" />
<line x1="166.80" y1="449.12" x2="170.60" y2="449.12" stroke="#222" stroke-width="0.7" />
<line x1="168.70" y1="462.18" x2="168.70" y2="460.84" stroke="#222" stroke-width="0.6" />
<line x1="166.80" y1="460.84" x2="170.60" y2="460.84" stroke="#222" stroke-width="0.7" />
<line x1="186.80" y1="452.30" x2="186.80" y2="448.11" stroke="#222" stroke-width="0.6" />
<line x1="184.90" y1="448.11" x2="188.70" y2="448.11" stroke="#222" stroke-width="0.7" />
<line x1="186.80" y1="452.80" x2="186.80" y2="451.12" stroke="#222" stroke-width="0.6" />
<line x1="184.90" y1="451.12" x2="188.70" y2="451.12" stroke="#222" stroke-width="0.7" />
<line x1="186.80" y1="458.50" x2="186.80" y2="457.49" stroke="#222" stroke-width="0.6" />
<line x1="184.90" y1="457.49" x2="188.70" y2="457.49" stroke="#222" stroke-width="0.7" />
<line x1="186.80" y1="462.85" x2="186.80" y2="461.84" stroke="#222" stroke-width="0.6" />
<line x1="184.90" y1="461.84" x2="188.70" y2="461.84" stroke="#222" stroke-width="0.7" />
<circle cx="185.75" cy="443.80" r="0.72" fill="#1a1a1a" />
<circle cx="187.85" cy="443.80" r="0.72" fill="#1a1a1a" />
<line x1="155.80" y1="466.70" x2="155.80" y2="398.00" stroke="#333" stroke-width="1.3" />
<line x1="153.00" y1="466.20" x2="155.80" y2="466.20" stroke="#333" stroke-width="1.105" />
<text x="150.40" y="468.10" font-size="6.0" text-anchor="end" fill="#404040">0</text>
<line x1="153.00" y1="432.70" x2="155.80" y2="432.70" stroke="#333" stroke-width="1.105" />
<text x="150.40" y="434.60" font-size="6.0" text-anchor="end" fill="#404040">10</text>
<line x1="153.00" y1="399.20" x2="155.80" y2="399.20" stroke="#333" stroke-width="1.105" />
<text x="150.40" y="401.10" font-size="6.0" text-anchor="end" fill="#404040">20</text>
<line x1="154.80" y1="466.20" x2="199.00" y2="466.20" stroke="#333" stroke-width="1.3" />
<line x1="168.70" y1="466.20" x2="168.70" y2="468.80" stroke="#333" stroke-width="1.0" />
<line x1="186.80" y1="466.20" x2="186.80" y2="468.80" stroke="#333" stroke-width="1.0" />
<text x="168.70" y="477.40" font-size="6.0" text-anchor="middle" fill="#222">WT</text>
<text x="178.50" y="477.40" font-size="6.0" fill="#222">Gata2<tspan font-size="3.60" dy="-2.40">+/-</tspan></text>
<text x="139.00" y="431.20" font-size="8.0" text-anchor="middle" fill="#2a2a2a" textLength="79" lengthAdjust="spacingAndGlyphs" transform="rotate(-90 139.00 431.20)" stroke="#2a2a2a" stroke-width="0.12">% in Single live donor BM cells</text>
<rect x="200.20" y="405.90" width="4.80" height="2.80" fill="#c7cee7" />
<text x="207.10" y="409.40" font-size="6.0" fill="#222">Igm*</text>
<rect x="200.20" y="412.60" width="4.80" height="2.80" fill="#8e9ecb" />
<text x="207.10" y="416.10" font-size="6.0" fill="#222">Pre *</text>
<rect x="200.20" y="418.80" width="4.80" height="2.80" fill="#476fa6" />
<text x="207.10" y="422.30" font-size="6.0" fill="#222">Pro *</text>
<rect x="200.20" y="425.00" width="4.80" height="2.80" fill="#1b3a72" />
<text x="207.10" y="428.50" font-size="6.0" fill="#222">PrePro</text>
<text x="240.30" y="384.20" font-size="11" font-weight="bold" fill="#000" stroke="#000" stroke-width="0.25">N</text>
<text x="288.80" y="391.60" font-size="6.15" fill="#222" textLength="93.9" lengthAdjust="spacingAndGlyphs">BM B-cell Senescence - Secondary</text>
<rect x="283.10" y="461.11" width="8.80" height="5.09" fill="#c0172d" />
<rect x="293.40" y="457.79" width="8.80" height="8.41" fill="#3aa7dc" />
<line x1="287.50" y1="461.11" x2="287.50" y2="459.56" stroke="#222" stroke-width="0.6" />
<line x1="285.90" y1="459.56" x2="289.10" y2="459.56" stroke="#222" stroke-width="0.6" />
<line x1="297.80" y1="457.79" x2="297.80" y2="456.24" stroke="#222" stroke-width="0.6" />
<line x1="296.20" y1="456.24" x2="299.40" y2="456.24" stroke="#222" stroke-width="0.6" />
<circle cx="285.90" cy="458.45" r="1.20" fill="#111" />
<circle cx="287.50" cy="460.67" r="1.20" fill="#111" />
<circle cx="289.10" cy="461.77" r="1.20" fill="#111" />
<circle cx="285.90" cy="462.88" r="1.20" fill="#111" />
<circle cx="296.20" cy="455.58" r="1.20" fill="#111" />
<circle cx="297.80" cy="456.68" r="1.20" fill="#111" />
<circle cx="299.40" cy="458.23" r="1.20" fill="#111" />
<circle cx="296.20" cy="459.56" r="1.20" fill="#111" />
<circle cx="297.80" cy="460.67" r="1.20" fill="#111" />
<rect x="311.80" y="458.01" width="8.80" height="8.19" fill="#c0172d" />
<rect x="322.10" y="451.15" width="8.80" height="15.05" fill="#3aa7dc" />
<line x1="316.20" y1="458.01" x2="316.20" y2="456.46" stroke="#222" stroke-width="0.6" />
<line x1="314.60" y1="456.46" x2="317.80" y2="456.46" stroke="#222" stroke-width="0.6" />
<line x1="326.50" y1="451.15" x2="326.50" y2="446.73" stroke="#222" stroke-width="0.6" />
<line x1="324.90" y1="446.73" x2="328.10" y2="446.73" stroke="#222" stroke-width="0.6" />
<circle cx="314.60" cy="455.58" r="1.20" fill="#111" />
<circle cx="316.20" cy="458.45" r="1.20" fill="#111" />
<circle cx="317.80" cy="459.12" r="1.20" fill="#111" />
<circle cx="324.90" cy="441.41" r="1.20" fill="#111" />
<circle cx="326.50" cy="445.18" r="1.20" fill="#111" />
<circle cx="328.10" cy="450.27" r="1.20" fill="#111" />
<circle cx="324.90" cy="453.81" r="1.20" fill="#111" />
<circle cx="326.50" cy="455.58" r="1.20" fill="#111" />
<rect x="340.50" y="462.66" width="8.80" height="3.54" fill="#c0172d" />
<rect x="350.80" y="460.45" width="8.80" height="5.75" fill="#3aa7dc" />
<line x1="344.90" y1="462.66" x2="344.90" y2="462.33" stroke="#222" stroke-width="0.6" />
<line x1="343.30" y1="462.33" x2="346.50" y2="462.33" stroke="#222" stroke-width="0.6" />
<line x1="355.20" y1="460.45" x2="355.20" y2="458.90" stroke="#222" stroke-width="0.6" />
<line x1="353.60" y1="458.90" x2="356.80" y2="458.90" stroke="#222" stroke-width="0.6" />
<circle cx="343.30" cy="462.55" r="1.20" fill="#111" />
<circle cx="344.90" cy="462.88" r="1.20" fill="#111" />
<circle cx="346.50" cy="463.10" r="1.20" fill="#111" />
<circle cx="353.60" cy="456.68" r="1.20" fill="#111" />
<circle cx="355.20" cy="457.79" r="1.20" fill="#111" />
<circle cx="356.80" cy="460.45" r="1.20" fill="#111" />
<circle cx="353.60" cy="461.77" r="1.20" fill="#111" />
<circle cx="355.20" cy="462.88" r="1.20" fill="#111" />
<rect x="369.00" y="440.09" width="8.80" height="26.11" fill="#c0172d" />
<rect x="379.30" y="438.76" width="8.80" height="27.44" fill="#3aa7dc" />
<line x1="373.40" y1="440.09" x2="373.40" y2="433.00" stroke="#222" stroke-width="0.6" />
<line x1="371.80" y1="433.00" x2="375.00" y2="433.00" stroke="#222" stroke-width="0.6" />
<line x1="383.70" y1="438.76" x2="383.70" y2="430.35" stroke="#222" stroke-width="0.6" />
<line x1="382.10" y1="430.35" x2="385.30" y2="430.35" stroke="#222" stroke-width="0.6" />
<circle cx="371.80" cy="425.26" r="1.20" fill="#111" />
<circle cx="373.40" cy="434.11" r="1.20" fill="#111" />
<circle cx="375.00" cy="439.64" r="1.20" fill="#111" />
<circle cx="371.80" cy="448.50" r="1.20" fill="#111" />
<circle cx="373.40" cy="461.77" r="1.20" fill="#111" />
<circle cx="382.10" cy="409.99" r="1.20" fill="#111" />
<circle cx="383.70" cy="424.60" r="1.20" fill="#111" />
<circle cx="385.30" cy="437.43" r="1.20" fill="#111" />
<circle cx="382.10" cy="450.71" r="1.20" fill="#111" />
<circle cx="383.70" cy="458.45" r="1.20" fill="#111" />
<line x1="279.20" y1="466.70" x2="279.20" y2="398.50" stroke="#333" stroke-width="1.3" />
<line x1="276.40" y1="466.20" x2="279.20" y2="466.20" stroke="#333" stroke-width="1.105" />
<text x="274.40" y="468.10" font-size="6.4" text-anchor="end" fill="#404040">0</text>
<line x1="276.40" y1="444.07" x2="279.20" y2="444.07" stroke="#333" stroke-width="1.105" />
<text x="274.40" y="445.97" font-size="6.4" text-anchor="end" fill="#404040">1000</text>
<line x1="276.40" y1="421.94" x2="279.20" y2="421.94" stroke="#333" stroke-width="1.105" />
<text x="274.40" y="423.84" font-size="6.4" text-anchor="end" fill="#404040">2000</text>
<line x1="276.40" y1="399.81" x2="279.20" y2="399.81" stroke="#333" stroke-width="1.105" />
<text x="274.40" y="401.71" font-size="6.4" text-anchor="end" fill="#404040">3000</text>
<line x1="278.50" y1="466.20" x2="391.90" y2="466.20" stroke="#333" stroke-width="1.3" />
<line x1="292.60" y1="466.20" x2="292.60" y2="468.80" stroke="#333" stroke-width="1.0" />
<line x1="321.30" y1="466.20" x2="321.30" y2="468.80" stroke="#333" stroke-width="1.0" />
<line x1="350.00" y1="466.20" x2="350.00" y2="468.80" stroke="#333" stroke-width="1.0" />
<line x1="378.50" y1="466.20" x2="378.50" y2="468.80" stroke="#333" stroke-width="1.0" />
<text x="292.80" y="477.50" font-size="6.0" text-anchor="middle" fill="#222">PrePro</text>
<text x="321.50" y="477.50" font-size="6.0" text-anchor="middle" fill="#222">Pro</text>
<text x="350.20" y="477.50" font-size="6.0" text-anchor="middle" fill="#222">Pre</text>
<text x="377.30" y="477.50" font-size="6.0" text-anchor="middle" fill="#222">Igm<tspan font-size="3.6" dy="-2.52">+</tspan></text>
<path d="M315.50,436.00 L315.50,433.80 L326.50,433.80 L326.50,436.00" fill="none" stroke="#333" stroke-width="0.7"/>
<circle cx="321.00" cy="431.00" r="0.72" fill="#1a1a1a" />
<text x="254.20" y="431.00" font-size="8.0" text-anchor="middle" fill="#2a2a2a" textLength="57" lengthAdjust="spacingAndGlyphs" transform="rotate(-90 254.20 431.00)" stroke="#2a2a2a" stroke-width="0.12">Senescence green MFI</text>
<rect x="400.20" y="411.10" width="6.80" height="3.00" fill="#c0172d" />
<text x="409.60" y="414.80" font-size="6.2" fill="#222">aged-WT</text>
<rect x="400.20" y="418.90" width="6.80" height="3.00" fill="#3aa7dc" />
<text x="409.60" y="422.60" font-size="6.0" fill="#222">aged-Gata2<tspan font-size="3.60" dy="-2.40">+/-</tspan></text>
<text x="6.60" y="504.00" font-size="11" font-weight="bold" fill="#000" stroke="#000" stroke-width="0.25">P</text>
<text x="23.50" y="511.80" font-size="6.15" fill="#222" textLength="71.7" lengthAdjust="spacingAndGlyphs">BM Chimerism - Secondary</text>
<rect x="43.30" y="522.40" width="3.6" height="3.2" fill="none" stroke="#c0172d" stroke-width="0.8"/>
<rect x="48.60" y="518.10" width="3.6" height="3.2" fill="none" stroke="#c0172d" stroke-width="0.8"/>
<rect x="47.70" y="521.90" width="3.6" height="3.2" fill="none" stroke="#c0172d" stroke-width="0.8"/>
<rect x="52.95" y="519.10" width="3.6" height="3.2" fill="none" stroke="#c0172d" stroke-width="0.8"/>
<rect x="49.60" y="519.40" width="3.6" height="3.2" fill="none" stroke="#c0172d" stroke-width="0.8"/>
<line x1="45.00" y1="522.00" x2="53.00" y2="522.00" stroke="#c0172d" stroke-width="1.0" />
<line x1="68.50" y1="525.50" x2="68.50" y2="544.70" stroke="#86c6e6" stroke-width="0.8" />
<line x1="64.50" y1="525.50" x2="72.50" y2="525.50" stroke="#86c6e6" stroke-width="0.8" />
<line x1="65.50" y1="544.70" x2="71.50" y2="544.70" stroke="#86c6e6" stroke-width="0.8" />
<line x1="62.30" y1="535.00" x2="75.00" y2="535.00" stroke="#86c6e6" stroke-width="0.9" />
<circle cx="64.00" cy="520.70" r="2.05" fill="#3ea3d6" />
<circle cx="67.70" cy="521.60" r="2.05" fill="#3ea3d6" />
<circle cx="73.00" cy="521.60" r="2.05" fill="#3ea3d6" />
<circle cx="66.00" cy="531.20" r="2.05" fill="#3ea3d6" />
<circle cx="71.10" cy="531.70" r="2.05" fill="#3ea3d6" />
<circle cx="68.80" cy="582.00" r="2.05" fill="#3ea3d6" />
<line x1="37.60" y1="586.70" x2="37.60" y2="516.80" stroke="#333" stroke-width="1.3" />
<line x1="34.80" y1="586.20" x2="37.60" y2="586.20" stroke="#333" stroke-width="1.105" />
<text x="32.20" y="588.10" font-size="6.0" text-anchor="end" fill="#404040">0</text>
<line x1="34.80" y1="553.00" x2="37.60" y2="553.00" stroke="#333" stroke-width="1.105" />
<text x="32.20" y="554.90" font-size="6.0" text-anchor="end" fill="#404040">50</text>
<line x1="34.80" y1="519.80" x2="37.60" y2="519.80" stroke="#333" stroke-width="1.105" />
<text x="32.20" y="521.70" font-size="6.0" text-anchor="end" fill="#404040">100</text>
<line x1="35.40" y1="586.20" x2="80.80" y2="586.20" stroke="#333" stroke-width="1.3" />
<line x1="50.30" y1="586.20" x2="50.30" y2="588.80" stroke="#333" stroke-width="1.0" />
<line x1="68.50" y1="586.20" x2="68.50" y2="588.80" stroke="#333" stroke-width="1.0" />
<text x="50.30" y="597.40" font-size="6.0" text-anchor="middle" fill="#222">WT</text>
<text x="60.80" y="597.40" font-size="6.0" fill="#222">Gata2<tspan font-size="3.60" dy="-2.40">+/-</tspan></text>
<text x="17.20" y="551.30" font-size="8.0" text-anchor="middle" fill="#2a2a2a" textLength="49" lengthAdjust="spacingAndGlyphs" transform="rotate(-90 17.20 551.30)" stroke="#2a2a2a" stroke-width="0.12">% Donor chimerism</text>
<text x="109.20" y="504.50" font-size="11" font-weight="bold" fill="#000" stroke="#000" stroke-width="0.25">Q</text>
<text x="176.50" y="511.80" font-size="6.15" fill="#222" textLength="60.4" lengthAdjust="spacingAndGlyphs">Aged LSK - Secondary</text>
<rect x="156.00" y="535.95" width="5.80" height="50.25" fill="#c0172d" />
<rect x="164.30" y="560.07" width="5.80" height="26.13" fill="#3aa7dc" />
<line x1="158.90" y1="535.95" x2="158.90" y2="530.59" stroke="#222" stroke-width="0.6" />
<line x1="157.50" y1="530.59" x2="160.30" y2="530.59" stroke="#222" stroke-width="0.6" />
<line x1="167.20" y1="560.07" x2="167.20" y2="558.06" stroke="#222" stroke-width="0.6" />
<line x1="165.80" y1="558.06" x2="168.60" y2="558.06" stroke="#222" stroke-width="0.6" />
<circle cx="158.00" cy="521.88" r="0.95" fill="#111" />
<circle cx="158.90" cy="525.90" r="0.95" fill="#111" />
<circle cx="159.80" cy="532.60" r="0.95" fill="#111" />
<circle cx="158.00" cy="539.30" r="0.95" fill="#111" />
<circle cx="158.90" cy="548.68" r="0.95" fill="#111" />
<circle cx="166.30" cy="548.68" r="0.95" fill="#111" />
<circle cx="167.20" cy="559.40" r="0.95" fill="#111" />
<circle cx="168.10" cy="562.08" r="0.95" fill="#111" />
<circle cx="166.30" cy="570.12" r="0.95" fill="#111" />
<circle cx="167.20" cy="576.82" r="0.95" fill="#111" />
<rect x="178.00" y="566.10" width="5.80" height="20.10" fill="#c0172d" />
<rect x="186.30" y="578.83" width="5.80" height="7.37" fill="#3aa7dc" />
<line x1="180.90" y1="566.10" x2="180.90" y2="559.40" stroke="#222" stroke-width="0.6" />
<line x1="179.50" y1="559.40" x2="182.30" y2="559.40" stroke="#222" stroke-width="0.6" />
<line x1="189.20" y1="578.83" x2="189.20" y2="576.82" stroke="#222" stroke-width="0.6" />
<line x1="187.80" y1="576.82" x2="190.60" y2="576.82" stroke="#222" stroke-width="0.6" />
<circle cx="180.00" cy="541.98" r="0.95" fill="#111" />
<circle cx="180.90" cy="566.10" r="0.95" fill="#111" />
<circle cx="181.80" cy="572.80" r="0.95" fill="#111" />
<circle cx="180.00" cy="575.48" r="0.95" fill="#111" />
<circle cx="188.30" cy="574.81" r="0.95" fill="#111" />
<circle cx="189.20" cy="578.16" r="0.95" fill="#111" />
<circle cx="190.10" cy="579.50" r="0.95" fill="#111" />
<circle cx="188.30" cy="580.84" r="0.95" fill="#111" />
<rect x="200.00" y="579.50" width="5.80" height="6.70" fill="#c0172d" />
<rect x="208.30" y="584.59" width="5.80" height="1.61" fill="#3aa7dc" />
<line x1="202.90" y1="579.50" x2="202.90" y2="577.49" stroke="#222" stroke-width="0.6" />
<line x1="201.50" y1="577.49" x2="204.30" y2="577.49" stroke="#222" stroke-width="0.6" />
<line x1="211.20" y1="584.59" x2="211.20" y2="584.19" stroke="#222" stroke-width="0.6" />
<line x1="209.80" y1="584.19" x2="212.60" y2="584.19" stroke="#222" stroke-width="0.6" />
<circle cx="202.00" cy="577.49" r="0.95" fill="#111" />
<circle cx="202.90" cy="578.83" r="0.95" fill="#111" />
<circle cx="203.80" cy="579.77" r="0.95" fill="#111" />
<circle cx="202.00" cy="581.51" r="0.95" fill="#111" />
<circle cx="210.30" cy="584.19" r="0.95" fill="#111" />
<circle cx="211.20" cy="584.59" r="0.95" fill="#111" />
<circle cx="212.10" cy="584.86" r="0.95" fill="#111" />
<rect x="222.00" y="569.45" width="5.80" height="16.75" fill="#c0172d" />
<rect x="230.30" y="578.16" width="5.80" height="8.04" fill="#3aa7dc" />
<line x1="224.90" y1="569.45" x2="224.90" y2="566.10" stroke="#222" stroke-width="0.6" />
<line x1="223.50" y1="566.10" x2="226.30" y2="566.10" stroke="#222" stroke-width="0.6" />
<line x1="233.20" y1="578.16" x2="233.20" y2="574.14" stroke="#222" stroke-width="0.6" />
<line x1="231.80" y1="574.14" x2="234.60" y2="574.14" stroke="#222" stroke-width="0.6" />
<circle cx="224.00" cy="559.40" r="0.95" fill="#111" />
<circle cx="224.90" cy="566.10" r="0.95" fill="#111" />
<circle cx="225.80" cy="570.12" r="0.95" fill="#111" />
<circle cx="224.00" cy="575.48" r="0.95" fill="#111" />
<circle cx="224.90" cy="578.16" r="0.95" fill="#111" />
<circle cx="232.30" cy="572.80" r="0.95" fill="#111" />
<circle cx="233.20" cy="575.48" r="0.95" fill="#111" />
<circle cx="234.10" cy="578.16" r="0.95" fill="#111" />
<circle cx="232.30" cy="580.84" r="0.95" fill="#111" />
<circle cx="233.20" cy="583.52" r="0.95" fill="#111" />
<rect x="244.00" y="580.84" width="5.80" height="5.36" fill="#c0172d" />
<rect x="252.30" y="576.82" width="5.80" height="9.38" fill="#3aa7dc" />
<line x1="246.90" y1="580.84" x2="246.90" y2="579.77" stroke="#222" stroke-width="0.6" />
<line x1="245.50" y1="579.77" x2="248.30" y2="579.77" stroke="#222" stroke-width="0.6" />
<line x1="255.20" y1="576.82" x2="255.20" y2="573.47" stroke="#222" stroke-width="0.6" />
<line x1="253.80" y1="573.47" x2="256.60" y2="573.47" stroke="#222" stroke-width="0.6" />
<circle cx="246.00" cy="579.50" r="0.95" fill="#111" />
<circle cx="246.90" cy="580.17" r="0.95" fill="#111" />
<circle cx="247.80" cy="581.51" r="0.95" fill="#111" />
<circle cx="254.30" cy="571.46" r="0.95" fill="#111" />
<circle cx="255.20" cy="572.13" r="0.95" fill="#111" />
<circle cx="256.10" cy="575.48" r="0.95" fill="#111" />
<circle cx="254.30" cy="578.16" r="0.95" fill="#111" />
<circle cx="255.20" cy="582.18" r="0.95" fill="#111" />
<line x1="153.30" y1="586.70" x2="153.30" y2="517.50" stroke="#333" stroke-width="1.3" />
<line x1="150.50" y1="586.20" x2="153.30" y2="586.20" stroke="#333" stroke-width="1.105" />
<text x="146.70" y="588.10" font-size="6.2" text-anchor="end" fill="#404040">0</text>
<line x1="150.50" y1="572.80" x2="153.30" y2="572.80" stroke="#333" stroke-width="1.105" />
<text x="146.70" y="574.70" font-size="6.2" text-anchor="end" fill="#404040">10000</text>
<line x1="150.50" y1="559.40" x2="153.30" y2="559.40" stroke="#333" stroke-width="1.105" />
<text x="146.70" y="561.30" font-size="6.2" text-anchor="end" fill="#404040">20000</text>
<line x1="150.50" y1="546.00" x2="153.30" y2="546.00" stroke="#333" stroke-width="1.105" />
<text x="146.70" y="547.90" font-size="6.2" text-anchor="end" fill="#404040">30000</text>
<line x1="150.50" y1="532.60" x2="153.30" y2="532.60" stroke="#333" stroke-width="1.105" />
<text x="146.70" y="534.50" font-size="6.2" text-anchor="end" fill="#404040">40000</text>
<line x1="150.50" y1="519.20" x2="153.30" y2="519.20" stroke="#333" stroke-width="1.105" />
<text x="146.70" y="521.10" font-size="6.2" text-anchor="end" fill="#404040">50000</text>
<line x1="152.50" y1="586.20" x2="259.40" y2="586.20" stroke="#333" stroke-width="1.3" />
<line x1="163.00" y1="586.20" x2="163.00" y2="588.80" stroke="#333" stroke-width="1.0" />
<line x1="185.00" y1="586.20" x2="185.00" y2="588.80" stroke="#333" stroke-width="1.0" />
<line x1="207.00" y1="586.20" x2="207.00" y2="588.80" stroke="#333" stroke-width="1.0" />
<line x1="229.00" y1="586.20" x2="229.00" y2="588.80" stroke="#333" stroke-width="1.0" />
<line x1="251.00" y1="586.20" x2="251.00" y2="588.80" stroke="#333" stroke-width="1.0" />
<text x="163.00" y="597.60" font-size="6.3" text-anchor="middle" fill="#222">LSK</text>
<text x="185.00" y="597.60" font-size="6.3" text-anchor="middle" fill="#222">HSC</text>
<text x="207.00" y="597.60" font-size="6.3" text-anchor="middle" fill="#222">MPP</text>
<text x="229.00" y="597.60" font-size="6.3" text-anchor="middle" fill="#222">HPC1</text>
<text x="251.00" y="597.60" font-size="6.3" text-anchor="middle" fill="#222">HPC2</text>
<path d="M158.50,523.60 L158.50,520.80 L167.50,520.80 L167.50,523.60" fill="none" stroke="#333" stroke-width="0.7"/>
<circle cx="163.00" cy="517.80" r="0.72" fill="#1a1a1a" />
<path d="M180.60,542.20 L180.60,539.40 L189.20,539.40 L189.20,542.20" fill="none" stroke="#333" stroke-width="0.7"/>
<circle cx="184.90" cy="536.40" r="0.72" fill="#1a1a1a" />
<path d="M202.30,569.10 L202.30,566.30 L211.00,566.30 L211.00,569.10" fill="none" stroke="#333" stroke-width="0.7"/>
<circle cx="205.60" cy="563.30" r="0.72" fill="#1a1a1a" />
<circle cx="207.70" cy="563.30" r="0.72" fill="#1a1a1a" />
<text x="124.60" y="551.00" font-size="8.0" text-anchor="middle" fill="#2a2a2a" textLength="65" lengthAdjust="spacingAndGlyphs" transform="rotate(-90 124.60 551.00)" stroke="#2a2a2a" stroke-width="0.12">Number of donor BM cells</text>
<rect x="261.00" y="534.50" width="6.40" height="3.00" fill="#c0172d" />
<text x="268.60" y="538.20" font-size="6.2" fill="#222" textLength="25.1" lengthAdjust="spacingAndGlyphs">aged-WT</text>
<rect x="261.00" y="542.70" width="6.40" height="3.00" fill="#3aa7dc" />
<text x="268.60" y="546.40" font-size="6.0" fill="#222">aged-Gata2<tspan font-size="3.60" dy="-2.40">+/-</tspan></text>
<text x="321.30" y="504.00" font-size="11" font-weight="bold" fill="#000" stroke="#000" stroke-width="0.25">R</text>
<text x="372.50" y="511.80" font-size="6.15" fill="#222" textLength="42.5" lengthAdjust="spacingAndGlyphs">BM - Secondary</text>
<rect x="376.00" y="574.60" width="11.90" height="11.60" fill="#5a1f73" />
<rect x="376.00" y="570.00" width="11.90" height="4.60" fill="#35b1d4" />
<rect x="376.00" y="568.50" width="11.90" height="1.50" fill="#1e8a3a" />
<rect x="376.00" y="545.80" width="11.90" height="22.70" fill="#f59c1d" />
<rect x="376.00" y="539.20" width="11.90" height="6.60" fill="#b3121c" />
<rect x="394.80" y="583.80" width="11.90" height="2.40" fill="#5a1f73" />
<rect x="394.80" y="582.30" width="11.90" height="1.50" fill="#35b1d4" />
<rect x="394.80" y="581.00" width="11.90" height="1.30" fill="#1e8a3a" />
<rect x="394.80" y="554.00" width="11.90" height="27.00" fill="#f59c1d" />
<rect x="394.80" y="548.80" width="11.90" height="5.20" fill="#b3121c" />
<line x1="381.90" y1="539.40" x2="381.90" y2="539.00" stroke="#222" stroke-width="0.6" />
<line x1="379.70" y1="539.00" x2="384.10" y2="539.00" stroke="#222" stroke-width="0.7" />
<line x1="380.10" y1="546.00" x2="383.70" y2="546.00" stroke="#222" stroke-width="0.5" />
<line x1="380.10" y1="568.50" x2="383.70" y2="568.50" stroke="#222" stroke-width="0.5" />
<line x1="380.10" y1="572.00" x2="383.70" y2="572.00" stroke="#222" stroke-width="0.5" />
<line x1="400.70" y1="548.80" x2="400.70" y2="544.00" stroke="#222" stroke-width="0.6" />
<line x1="398.50" y1="544.00" x2="402.90" y2="544.00" stroke="#222" stroke-width="0.7" />
<line x1="398.90" y1="554.00" x2="402.50" y2="554.00" stroke="#222" stroke-width="0.5" />
<line x1="398.90" y1="580.50" x2="402.50" y2="580.50" stroke="#222" stroke-width="0.5" />
<line x1="398.90" y1="583.00" x2="402.50" y2="583.00" stroke="#222" stroke-width="0.5" />
<line x1="398.50" y1="546.50" x2="402.90" y2="546.50" stroke="#222" stroke-width="0.6" />
<line x1="366.90" y1="586.70" x2="366.90" y2="517.50" stroke="#333" stroke-width="1.3" />
<line x1="364.10" y1="586.20" x2="366.90" y2="586.20" stroke="#333" stroke-width="1.105" />
<text x="361.30" y="588.10" font-size="6.5" text-anchor="end" fill="#404040">0</text>
<line x1="364.10" y1="564.06" x2="366.90" y2="564.06" stroke="#333" stroke-width="1.105" />
<text x="361.30" y="565.96" font-size="6.5" text-anchor="end" fill="#404040">200000</text>
<line x1="364.10" y1="541.92" x2="366.90" y2="541.92" stroke="#333" stroke-width="1.105" />
<text x="361.30" y="543.82" font-size="6.5" text-anchor="end" fill="#404040">400000</text>
<line x1="364.10" y1="519.78" x2="366.90" y2="519.78" stroke="#333" stroke-width="1.105" />
<text x="361.30" y="521.68" font-size="6.5" text-anchor="end" fill="#404040">600000</text>
<line x1="366.00" y1="586.20" x2="418.30" y2="586.20" stroke="#333" stroke-width="1.3" />
<line x1="381.90" y1="586.20" x2="381.90" y2="588.80" stroke="#333" stroke-width="1.0" />
<line x1="400.70" y1="586.20" x2="400.70" y2="588.80" stroke="#333" stroke-width="1.0" />
<text x="381.70" y="596.60" font-size="6.0" text-anchor="middle" fill="#222">WT</text>
<text x="390.80" y="596.60" font-size="6.0" fill="#222" font-style="italic">Gata2<tspan font-size="3.60" dy="-2.40">+/-</tspan></text>
<text x="335.30" y="551.00" font-size="8.0" text-anchor="middle" fill="#2a2a2a" textLength="65" lengthAdjust="spacingAndGlyphs" transform="rotate(-90 335.30 551.00)" stroke="#2a2a2a" stroke-width="0.12">Number of donor BM cells</text>
<rect x="421.20" y="530.00" width="5.20" height="3.00" fill="#5a1f73" />
<text x="428.80" y="533.70" font-size="6.2" fill="#222">B-cell *</text>
<rect x="421.20" y="536.70" width="5.20" height="3.00" fill="#35b1d4" />
<text x="428.80" y="540.40" font-size="6.2" fill="#222">T-cell*</text>
<rect x="421.20" y="543.20" width="5.20" height="3.00" fill="#1e8a3a" />
<text x="428.80" y="546.90" font-size="6.2" fill="#222">monocyte</text>
<rect x="421.20" y="549.70" width="5.20" height="3.00" fill="#f59c1d" />
<text x="428.80" y="553.40" font-size="6.2" fill="#222">neutrophil</text>
<rect x="421.20" y="556.30" width="5.20" height="3.00" fill="#b3121c" />
<text x="428.80" y="560.00" font-size="6.2" fill="#222">other myeloid</text>
<rect x="0.5" y="0.5" width="519" height="603" fill="none" stroke="#555" stroke-width="1.2"/>
</svg>
</body></html>
